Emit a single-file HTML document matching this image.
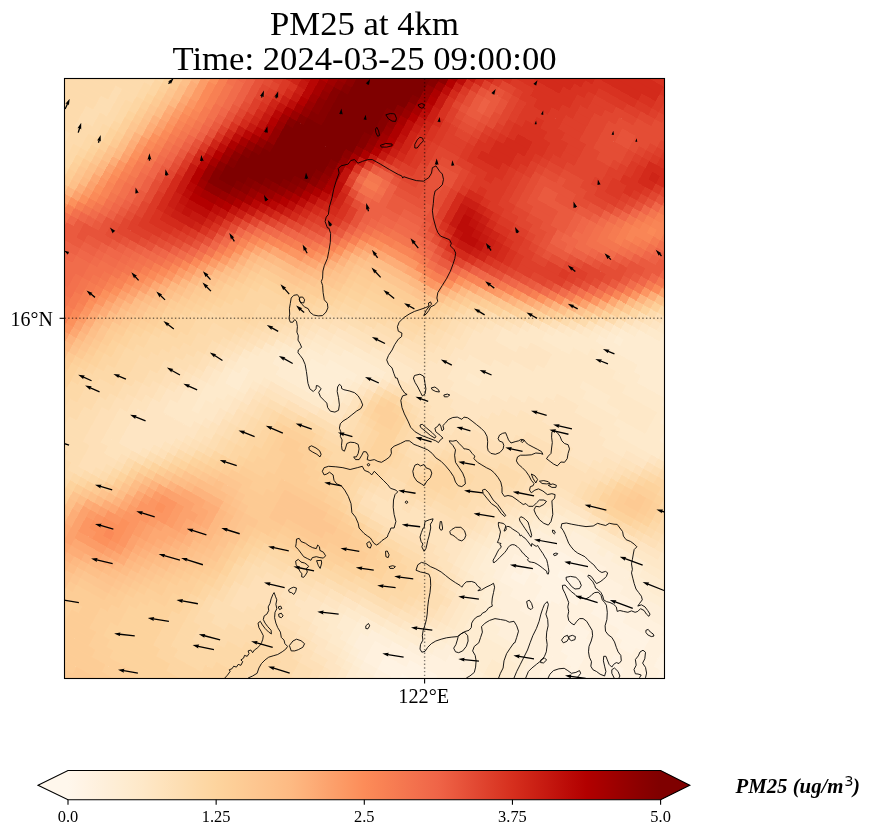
<!DOCTYPE html>
<html><head><meta charset="utf-8"><title>PM25 at 4km</title>
<style>
html,body{margin:0;padding:0;background:#fff;}
svg{display:block;will-change:transform;font-family:"Liberation Serif","DejaVu Serif",serif;}
</style></head><body>
<svg width="871" height="836" viewBox="0 0 871 836">
<defs>
<linearGradient id="cb" gradientUnits="userSpaceOnUse" x1="68.0" x2="660.6" y1="0" y2="0"><stop offset="0.0000" stop-color="#fff7ec"/><stop offset="0.0312" stop-color="#fff3e3"/><stop offset="0.0625" stop-color="#feefda"/><stop offset="0.0938" stop-color="#feecd1"/><stop offset="0.1250" stop-color="#fee8c8"/><stop offset="0.1562" stop-color="#fee3bd"/><stop offset="0.1875" stop-color="#fddeb3"/><stop offset="0.2188" stop-color="#fdd9a8"/><stop offset="0.2500" stop-color="#fdd49e"/><stop offset="0.2812" stop-color="#fdce97"/><stop offset="0.3125" stop-color="#fdc791"/><stop offset="0.3438" stop-color="#fdc18a"/><stop offset="0.3750" stop-color="#fdba83"/><stop offset="0.4062" stop-color="#fdaf79"/><stop offset="0.4375" stop-color="#fca36e"/><stop offset="0.4688" stop-color="#fc9863"/><stop offset="0.5000" stop-color="#fc8c59"/><stop offset="0.5312" stop-color="#f98254"/><stop offset="0.5625" stop-color="#f57850"/><stop offset="0.5938" stop-color="#f26e4c"/><stop offset="0.6250" stop-color="#ef6447"/><stop offset="0.6562" stop-color="#e9573d"/><stop offset="0.6875" stop-color="#e24933"/><stop offset="0.7188" stop-color="#dc3c28"/><stop offset="0.7500" stop-color="#d62f1e"/><stop offset="0.7812" stop-color="#cd2316"/><stop offset="0.8125" stop-color="#c4170f"/><stop offset="0.8438" stop-color="#bb0b07"/><stop offset="0.8750" stop-color="#b20000"/><stop offset="0.9062" stop-color="#a50000"/><stop offset="0.9375" stop-color="#970000"/><stop offset="0.9688" stop-color="#8a0000"/><stop offset="1.0000" stop-color="#7f0000"/></linearGradient>
<clipPath id="ax"><rect x="64.5" y="78.5" width="600.0" height="600.0"/></clipPath>
</defs>
<rect width="871" height="836" fill="#fff"/>
<text x="364.5" y="34.5" font-size="34.7" text-anchor="middle">PM25 at 4km</text>
<text x="364.5" y="70" font-size="34.7" text-anchor="middle">Time: 2024-03-25 09:00:00</text>
<g clip-path="url(#ax)">
<g transform="translate(64.5 78.5)" shape-rendering="crispEdges">
<g stroke-width="0.7" transform="translate(300 300) rotate(29)">
<path fill="#fff5e7" stroke="#fff5e7" d="M264 72h16v8h-16zM272 80h8v8h-8zM176 240h16v8h-16z"/>
<path fill="#fff3e3" stroke="#fff3e3" d="M248 56h32v8h-32zM240 64h56v8h-56zM240 72h24v8h-24zM280 72h24v8h-24zM320 72h8v8h-8zM240 80h32v8h-32zM280 80h64v8h-64zM232 88h8v8h-8zM248 88h48v8h-48zM312 88h64v8h-64zM224 96h16v8h-16zM256 96h24v8h-24zM344 96h32v8h-32zM392 96h16v8h-16zM256 104h16v8h-16zM352 104h16v8h-16zM392 104h24v8h-24zM296 112h24v8h-24zM400 112h8v8h-8zM296 120h32v8h-32zM352 120h8v8h-8zM304 128h24v8h-24zM344 128h24v8h-24zM304 136h24v8h-24zM352 136h8v8h-8zM312 144h16v8h-16zM320 152h24v8h-24zM320 160h16v8h-16zM176 224h32v8h-32zM152 232h56v8h-56zM152 240h24v8h-24zM168 248h16v8h-16z"/>
<path fill="#fff1de" stroke="#fff1de" d="M240 48h64v8h-64zM232 56h16v8h-16zM280 56h48v8h-48zM224 64h16v8h-16zM296 64h56v8h-56zM224 72h16v8h-16zM304 72h16v8h-16zM328 72h56v8h-56zM216 80h24v8h-24zM344 80h56v8h-56zM216 88h16v8h-16zM240 88h8v8h-8zM296 88h16v8h-16zM376 88h24v8h-24zM216 96h8v8h-8zM240 96h16v8h-16zM280 96h64v8h-64zM376 96h16v8h-16zM216 104h40v8h-40zM272 104h80v8h-80zM368 104h24v8h-24zM232 112h64v8h-64zM320 112h80v8h-80zM408 112h8v8h-8zM248 120h48v8h-48zM328 120h24v8h-24zM360 120h48v8h-48zM280 128h24v8h-24zM328 128h16v8h-16zM368 128h32v8h-32zM288 136h16v8h-16zM328 136h24v8h-24zM360 136h24v8h-24zM288 144h24v8h-24zM328 144h40v8h-40zM288 152h32v8h-32zM344 152h8v8h-8zM296 160h24v8h-24zM296 168h32v8h-32zM304 176h8v8h-8zM208 200h16v8h-16zM192 208h40v8h-40zM152 216h88v8h-88zM136 224h40v8h-40zM208 224h16v8h-16zM136 232h16v8h-16zM136 240h16v8h-16zM152 248h16v8h-16zM160 256h8v8h-8z"/>
<path fill="#feefda" stroke="#feefda" d="M256 32h32v8h-32zM296 32h8v8h-8zM240 40h88v8h-88zM224 48h16v8h-16zM304 48h40v8h-40zM216 56h16v8h-16zM328 56h56v8h-56zM216 64h8v8h-8zM352 64h40v8h-40zM208 72h16v8h-16zM384 72h8v8h-8zM208 80h8v8h-8zM200 88h16v8h-16zM200 96h16v8h-16zM208 104h8v8h-8zM216 112h16v8h-16zM224 120h24v8h-24zM224 128h56v8h-56zM232 136h56v8h-56zM232 144h56v8h-56zM240 152h48v8h-48zM272 160h24v8h-24zM280 168h16v8h-16zM280 176h24v8h-24zM288 184h8v8h-8zM200 192h32v8h-32zM192 200h16v8h-16zM224 200h16v8h-16zM168 208h24v8h-24zM232 208h8v8h-8zM128 216h24v8h-24zM120 224h16v8h-16zM120 232h16v8h-16zM128 240h8v8h-8zM136 248h16v8h-16zM152 256h8v8h-8z"/>
<path fill="#feeed5" stroke="#feeed5" d="M200 -160h8v8h-8zM-40 0h32v8h-32zM-56 8h40v8h-40zM-64 16h48v8h-48zM-56 24h32v8h-32zM256 24h24v8h-24zM240 32h16v8h-16zM288 32h8v8h-8zM304 32h32v8h-32zM224 40h16v8h-16zM328 40h24v8h-24zM216 48h8v8h-8zM344 48h40v8h-40zM208 56h8v8h-8zM208 64h8v8h-8zM200 72h8v8h-8zM192 80h16v8h-16zM192 88h8v8h-8zM192 96h8v8h-8zM192 104h16v8h-16zM200 112h16v8h-16zM208 120h16v8h-16zM208 128h16v8h-16zM216 136h16v8h-16zM216 144h16v8h-16zM216 152h24v8h-24zM224 160h48v8h-48zM264 168h16v8h-16zM216 176h8v8h-8zM272 176h8v8h-8zM200 184h32v8h-32zM272 184h16v8h-16zM192 192h8v8h-8zM232 192h8v8h-8zM272 192h8v8h-8zM176 200h16v8h-16zM240 200h8v8h-8zM136 208h32v8h-32zM240 208h8v8h-8zM112 216h16v8h-16zM112 224h8v8h-8zM112 232h8v8h-8zM120 240h8v8h-8zM128 248h8v8h-8zM136 256h16v8h-16zM144 264h8v8h-8z"/>
<path fill="#feecd1" stroke="#feecd1" d="M240 -184h16v8h-16zM216 -176h40v8h-40zM200 -168h64v8h-64zM192 -160h8v8h-8zM208 -160h56v8h-56zM184 -152h88v8h-88zM232 -144h40v8h-40zM240 -136h40v8h-40zM272 -128h8v8h-8zM280 -120h8v8h-8zM280 -112h16v8h-16zM288 -104h8v8h-8zM288 -96h16v8h-16zM-32 -16h48v8h-48zM-48 -8h56v8h-56zM-64 0h24v8h-24zM-8 0h8v8h-8zM-80 8h24v8h-24zM-16 8h8v8h-8zM-88 16h24v8h-24zM-16 16h8v8h-8zM-88 24h32v8h-32zM-24 24h8v8h-8zM232 24h24v8h-24zM280 24h56v8h-56zM-80 32h64v8h-64zM224 32h16v8h-16zM336 32h24v8h-24zM368 32h8v8h-8zM216 40h8v8h-8zM352 40h24v8h-24zM-112 48h8v8h-8zM208 48h8v8h-8zM-120 56h16v8h-16zM200 56h8v8h-8zM-120 64h16v8h-16zM200 64h8v8h-8zM192 72h8v8h-8zM184 88h8v8h-8zM184 96h8v8h-8zM184 104h8v8h-8zM184 112h16v8h-16zM192 120h16v8h-16zM200 128h8v8h-8zM200 136h16v8h-16zM208 144h8v8h-8zM208 152h8v8h-8zM208 160h16v8h-16zM208 168h56v8h-56zM200 176h16v8h-16zM224 176h48v8h-48zM192 184h8v8h-8zM232 184h16v8h-16zM264 184h8v8h-8zM176 192h16v8h-16zM240 192h8v8h-8zM264 192h8v8h-8zM152 200h24v8h-24zM248 200h16v8h-16zM112 208h24v8h-24zM248 208h8v8h-8zM96 216h16v8h-16zM96 224h16v8h-16zM104 232h8v8h-8zM112 240h8v8h-8zM120 248h8v8h-8zM128 256h8v8h-8zM128 264h16v8h-16z"/>
<path fill="#feeacc" stroke="#feeacc" d="M240 -192h8v8h-8zM224 -184h16v8h-16zM208 -176h8v8h-8zM192 -168h8v8h-8zM184 -160h8v8h-8zM176 -152h8v8h-8zM160 -144h72v8h-72zM144 -136h40v8h-40zM192 -136h48v8h-48zM136 -128h32v8h-32zM216 -128h56v8h-56zM232 -120h48v8h-48zM272 -112h8v8h-8zM192 -104h32v8h-32zM272 -104h16v8h-16zM200 -96h40v8h-40zM272 -96h16v8h-16zM240 -88h64v8h-64zM248 -80h48v8h-48zM88 -56h16v8h-16zM-24 -24h48v8h-48zM-48 -16h16v8h-16zM16 -16h8v8h-8zM-64 -8h16v8h-16zM8 -8h8v8h-8zM-72 0h8v8h-8zM-88 8h8v8h-8zM-8 8h8v8h-8zM-96 16h8v8h-8zM240 16h40v8h-40zM-104 24h16v8h-16zM-16 24h8v8h-8zM224 24h8v8h-8zM336 24h32v8h-32zM-112 32h32v8h-32zM-16 32h8v8h-8zM216 32h8v8h-8zM360 32h8v8h-8zM-120 40h96v8h-96zM208 40h8v8h-8zM-120 48h8v8h-8zM-104 48h16v8h-16zM200 48h8v8h-8zM-128 56h8v8h-8zM-104 56h8v8h-8zM192 56h8v8h-8zM-128 64h8v8h-8zM-104 64h8v8h-8zM192 64h8v8h-8zM-128 72h24v8h-24zM184 72h8v8h-8zM-136 80h24v8h-24zM184 80h8v8h-8zM-136 88h16v8h-16zM176 88h8v8h-8zM-136 96h8v8h-8zM176 96h8v8h-8zM-136 104h8v8h-8zM176 104h8v8h-8zM176 112h8v8h-8zM184 120h8v8h-8zM192 128h8v8h-8zM192 136h8v8h-8zM200 144h8v8h-8zM200 152h8v8h-8zM200 160h8v8h-8zM200 168h8v8h-8zM192 176h8v8h-8zM176 184h16v8h-16zM248 184h16v8h-16zM160 192h16v8h-16zM248 192h16v8h-16zM136 200h16v8h-16zM96 208h16v8h-16zM88 216h8v8h-8zM80 224h16v8h-16zM88 232h16v8h-16zM96 240h16v8h-16zM112 248h8v8h-8zM120 256h8v8h-8zM128 272h8v8h-8z"/>
<path fill="#fee8c8" stroke="#fee8c8" d="M232 -192h8v8h-8zM216 -184h8v8h-8zM200 -176h8v8h-8zM176 -160h8v8h-8zM168 -152h8v8h-8zM152 -144h8v8h-8zM136 -136h8v8h-8zM184 -136h8v8h-8zM120 -128h16v8h-16zM168 -128h48v8h-48zM112 -120h120v8h-120zM96 -112h32v8h-32zM152 -112h120v8h-120zM96 -104h24v8h-24zM152 -104h40v8h-40zM224 -104h48v8h-48zM144 -96h56v8h-56zM240 -96h32v8h-32zM120 -88h120v8h-120zM104 -80h72v8h-72zM200 -80h48v8h-48zM296 -80h8v8h-8zM80 -72h88v8h-88zM232 -72h56v8h-56zM72 -64h80v8h-80zM240 -64h24v8h-24zM72 -56h16v8h-16zM104 -56h32v8h-32zM72 -48h48v8h-48zM80 -40h32v8h-32zM-8 -32h48v8h-48zM-48 -24h24v8h-24zM24 -24h16v8h-16zM-64 -16h16v8h-16zM-72 -8h8v8h-8zM-80 0h8v8h-8zM0 0h8v8h-8zM-96 8h8v8h-8zM344 8h16v8h-16zM-104 16h8v8h-8zM-8 16h8v8h-8zM224 16h16v8h-16zM280 16h80v8h-80zM-112 24h8v8h-8zM-8 24h8v8h-8zM216 24h8v8h-8zM-120 32h8v8h-8zM208 32h8v8h-8zM-24 40h16v8h-16zM200 40h8v8h-8zM-128 48h8v8h-8zM-88 48h8v8h-8zM192 48h8v8h-8zM-96 56h8v8h-8zM-136 64h8v8h-8zM184 64h8v8h-8zM-136 72h8v8h-8zM-104 72h8v8h-8zM-144 80h8v8h-8zM-112 80h8v8h-8zM176 80h8v8h-8zM-144 88h8v8h-8zM-120 88h16v8h-16zM168 88h8v8h-8zM-152 96h16v8h-16zM-128 96h16v8h-16zM168 96h8v8h-8zM-152 104h16v8h-16zM-128 104h16v8h-16zM168 104h8v8h-8zM-160 112h40v8h-40zM168 112h8v8h-8zM-160 120h32v8h-32zM176 120h8v8h-8zM184 128h8v8h-8zM184 136h8v8h-8zM192 144h8v8h-8zM192 152h8v8h-8zM192 160h8v8h-8zM192 168h8v8h-8zM184 176h8v8h-8zM168 184h8v8h-8zM152 192h8v8h-8zM104 200h32v8h-32zM88 208h8v8h-8zM72 216h16v8h-16zM72 224h8v8h-8zM72 232h16v8h-16zM80 240h16v8h-16zM96 248h16v8h-16zM112 256h8v8h-8zM120 264h8v8h-8zM120 272h8v8h-8z"/>
<path fill="#fee5c3" stroke="#fee5c3" d="M232 -200h8v8h-8zM224 -192h8v8h-8zM208 -184h8v8h-8zM184 -168h8v8h-8zM160 -152h8v8h-8zM144 -144h8v8h-8zM128 -136h8v8h-8zM112 -128h8v8h-8zM104 -120h8v8h-8zM88 -112h8v8h-8zM128 -112h24v8h-24zM80 -104h16v8h-16zM120 -104h32v8h-32zM72 -96h72v8h-72zM72 -88h48v8h-48zM72 -80h32v8h-32zM176 -80h24v8h-24zM304 -80h8v8h-8zM64 -72h16v8h-16zM168 -72h64v8h-64zM288 -72h8v8h-8zM64 -64h8v8h-8zM152 -64h88v8h-88zM264 -64h24v8h-24zM56 -56h16v8h-16zM136 -56h32v8h-32zM176 -56h88v8h-88zM48 -48h24v8h-24zM120 -48h32v8h-32zM192 -48h56v8h-56zM0 -40h80v8h-80zM112 -40h24v8h-24zM216 -40h24v8h-24zM-48 -32h40v8h-40zM40 -32h88v8h-88zM-64 -24h16v8h-16zM40 -24h24v8h-24zM88 -24h32v8h-32zM-72 -16h8v8h-8zM24 -16h8v8h-8zM96 -16h8v8h-8zM-80 -8h8v8h-8zM16 -8h8v8h-8zM-88 0h8v8h-8zM8 0h8v8h-8zM344 0h8v8h-8zM0 8h8v8h-8zM224 8h40v8h-40zM320 8h24v8h-24zM208 16h16v8h-16zM208 24h8v8h-8zM-8 32h8v8h-8zM200 32h8v8h-8zM-128 40h8v8h-8zM-8 40h8v8h-8zM192 40h8v8h-8zM-136 48h8v8h-8zM-80 48h56v8h-56zM184 48h8v8h-8zM-136 56h8v8h-8zM-88 56h8v8h-8zM184 56h8v8h-8zM-144 64h8v8h-8zM-96 64h8v8h-8zM176 64h8v8h-8zM-144 72h8v8h-8zM-96 72h8v8h-8zM176 72h8v8h-8zM-152 80h8v8h-8zM-104 80h8v8h-8zM168 80h8v8h-8zM-152 88h8v8h-8zM-104 88h8v8h-8zM160 88h8v8h-8zM-160 96h8v8h-8zM-112 96h8v8h-8zM152 96h16v8h-16zM-168 104h16v8h-16zM-112 104h8v8h-8zM152 104h16v8h-16zM-168 112h8v8h-8zM-120 112h8v8h-8zM160 112h8v8h-8zM-176 120h16v8h-16zM-128 120h8v8h-8zM168 120h8v8h-8zM-176 128h56v8h-56zM176 128h8v8h-8zM-184 136h56v8h-56zM176 136h8v8h-8zM-184 144h48v8h-48zM184 144h8v8h-8zM-184 152h40v8h-40zM184 152h8v8h-8zM-184 160h32v8h-32zM184 160h8v8h-8zM-184 168h24v8h-24zM184 168h8v8h-8zM176 176h8v8h-8zM160 184h8v8h-8zM136 192h16v8h-16zM88 200h16v8h-16zM72 208h16v8h-16zM56 216h16v8h-16zM48 224h24v8h-24zM56 232h16v8h-16zM72 240h8v8h-8zM80 248h16v8h-16zM88 256h24v8h-24zM104 264h16v8h-16zM112 272h8v8h-8zM112 280h8v8h-8z"/>
<path fill="#fee3bd" stroke="#fee3bd" d="M216 -192h8v8h-8zM192 -176h8v8h-8zM168 -160h8v8h-8zM96 -120h8v8h-8zM80 -112h8v8h-8zM72 -104h8v8h-8zM64 -96h8v8h-8zM64 -88h8v8h-8zM56 -80h16v8h-16zM56 -72h8v8h-8zM296 -72h8v8h-8zM48 -64h16v8h-16zM40 -56h16v8h-16zM168 -56h8v8h-8zM264 -56h16v8h-16zM8 -48h40v8h-40zM152 -48h40v8h-40zM248 -48h16v8h-16zM-40 -40h40v8h-40zM136 -40h80v8h-80zM240 -40h16v8h-16zM-56 -32h8v8h-8zM128 -32h40v8h-40zM208 -32h32v8h-32zM-72 -24h8v8h-8zM64 -24h24v8h-24zM120 -24h40v8h-40zM-80 -16h8v8h-8zM32 -16h64v8h-64zM104 -16h48v8h-48zM-88 -8h8v8h-8zM72 -8h48v8h-48zM344 -8h8v8h-8zM-96 0h8v8h-8zM80 0h24v8h-24zM216 0h24v8h-24zM336 0h8v8h-8zM-104 8h8v8h-8zM80 8h16v8h-16zM208 8h16v8h-16zM264 8h24v8h-24zM296 8h24v8h-24zM-112 16h8v8h-8zM0 16h8v8h-8zM200 16h8v8h-8zM-120 24h8v8h-8zM0 24h8v8h-8zM192 24h16v8h-16zM-128 32h8v8h-8zM0 32h8v8h-8zM192 32h8v8h-8zM-136 40h8v8h-8zM184 40h8v8h-8zM-24 48h24v8h-24zM176 48h8v8h-8zM-144 56h8v8h-8zM-80 56h24v8h-24zM176 56h8v8h-8zM-88 64h8v8h-8zM168 64h8v8h-8zM-152 72h8v8h-8zM168 72h8v8h-8zM-160 80h8v8h-8zM-96 80h8v8h-8zM160 80h8v8h-8zM-160 88h8v8h-8zM80 88h16v8h-16zM104 88h56v8h-56zM-168 96h8v8h-8zM-104 96h8v8h-8zM64 96h88v8h-88zM-176 104h8v8h-8zM72 104h80v8h-80zM-176 112h8v8h-8zM-112 112h8v8h-8zM144 112h16v8h-16zM-184 120h8v8h-8zM-120 120h16v8h-16zM152 120h16v8h-16zM-192 128h16v8h-16zM-120 128h8v8h-8zM160 128h16v8h-16zM-192 136h8v8h-8zM-128 136h8v8h-8zM168 136h8v8h-8zM-200 144h16v8h-16zM-136 144h8v8h-8zM176 144h8v8h-8zM-200 152h16v8h-16zM-144 152h8v8h-8zM-200 160h16v8h-16zM-152 160h8v8h-8zM176 160h8v8h-8zM-200 168h16v8h-16zM-160 168h8v8h-8zM176 168h8v8h-8zM-200 176h32v8h-32zM160 176h16v8h-16zM-192 184h16v8h-16zM144 184h16v8h-16zM104 192h32v8h-32zM72 200h16v8h-16zM56 208h16v8h-16zM32 216h24v8h-24zM32 224h16v8h-16zM40 232h16v8h-16zM48 240h24v8h-24zM64 248h16v8h-16zM80 256h8v8h-8zM88 264h16v8h-16zM104 272h8v8h-8zM104 280h8v8h-8z"/>
<path fill="#fee0b8" stroke="#fee0b8" d="M224 -200h8v8h-8zM200 -184h8v8h-8zM176 -168h8v8h-8zM152 -152h8v8h-8zM136 -144h8v8h-8zM120 -136h8v8h-8zM104 -128h8v8h-8zM88 -120h8v8h-8zM72 -112h8v8h-8zM64 -104h8v8h-8zM56 -96h8v8h-8zM56 -88h8v8h-8zM48 -80h8v8h-8zM48 -72h8v8h-8zM40 -64h8v8h-8zM288 -64h8v8h-8zM16 -56h24v8h-24zM280 -56h8v8h-8zM-24 -48h32v8h-32zM264 -48h8v8h-8zM-56 -40h16v8h-16zM256 -40h8v8h-8zM-72 -32h16v8h-16zM168 -32h40v8h-40zM240 -32h16v8h-16zM-80 -24h8v8h-8zM160 -24h88v8h-88zM-88 -16h8v8h-8zM152 -16h24v8h-24zM200 -16h40v8h-40zM-96 -8h8v8h-8zM24 -8h8v8h-8zM48 -8h24v8h-24zM120 -8h48v8h-48zM200 -8h40v8h-40zM336 -8h8v8h-8zM-104 0h8v8h-8zM64 0h16v8h-16zM104 0h48v8h-48zM200 0h16v8h-16zM240 0h16v8h-16zM320 0h16v8h-16zM-112 8h8v8h-8zM8 8h8v8h-8zM72 8h8v8h-8zM96 8h16v8h-16zM192 8h16v8h-16zM288 8h8v8h-8zM-120 16h8v8h-8zM72 16h32v8h-32zM192 16h8v8h-8zM-128 24h8v8h-8zM72 24h24v8h-24zM184 24h8v8h-8zM-136 32h8v8h-8zM72 32h16v8h-16zM176 32h16v8h-16zM-144 40h8v8h-8zM0 40h8v8h-8zM168 40h16v8h-16zM-144 48h8v8h-8zM0 48h8v8h-8zM168 48h8v8h-8zM-152 56h8v8h-8zM-56 56h24v8h-24zM160 56h16v8h-16zM-152 64h8v8h-8zM-80 64h8v8h-8zM160 64h8v8h-8zM-160 72h8v8h-8zM-88 72h8v8h-8zM152 72h16v8h-16zM-168 80h8v8h-8zM-88 80h8v8h-8zM72 80h24v8h-24zM104 80h56v8h-56zM-176 88h16v8h-16zM-96 88h8v8h-8zM64 88h16v8h-16zM96 88h8v8h-8zM-176 96h8v8h-8zM-96 96h8v8h-8zM56 96h8v8h-8zM-184 104h8v8h-8zM-104 104h8v8h-8zM56 104h16v8h-16zM-192 112h16v8h-16zM-104 112h8v8h-8zM72 112h72v8h-72zM-192 120h8v8h-8zM136 120h16v8h-16zM-200 128h8v8h-8zM-112 128h8v8h-8zM152 128h8v8h-8zM-208 136h16v8h-16zM-120 136h8v8h-8zM160 136h8v8h-8zM-208 144h8v8h-8zM-128 144h8v8h-8zM168 144h8v8h-8zM-216 152h16v8h-16zM-136 152h8v8h-8zM176 152h8v8h-8zM-216 160h16v8h-16zM-144 160h8v8h-8zM-216 168h16v8h-16zM168 168h8v8h-8zM-216 176h16v8h-16zM-168 176h8v8h-8zM152 176h8v8h-8zM-216 184h24v8h-24zM-176 184h8v8h-8zM136 184h8v8h-8zM-208 192h32v8h-32zM88 192h16v8h-16zM-208 200h24v8h-24zM56 200h16v8h-16zM-208 208h16v8h-16zM24 208h32v8h-32zM8 216h24v8h-24zM0 224h32v8h-32zM0 232h40v8h-40zM-8 240h56v8h-56zM-8 248h24v8h-24zM40 248h24v8h-24zM-8 256h16v8h-16zM64 256h16v8h-16zM72 264h16v8h-16zM80 272h24v8h-24zM96 280h8v8h-8zM104 288h8v8h-8z"/>
<path fill="#fddeb3" stroke="#fddeb3" d="M232 -208h8v8h-8zM208 -192h8v8h-8zM-360 -136h8v8h-8zM-360 -128h8v8h-8zM96 -128h8v8h-8zM-368 -120h16v8h-16zM80 -120h8v8h-8zM-368 -112h16v8h-16zM64 -112h8v8h-8zM-376 -104h16v8h-16zM56 -104h8v8h-8zM-376 -96h16v8h-16zM48 -96h8v8h-8zM-376 -88h8v8h-8zM48 -88h8v8h-8zM40 -80h8v8h-8zM-384 -72h8v8h-8zM32 -72h16v8h-16zM304 -72h8v8h-8zM-384 -64h8v8h-8zM24 -64h16v8h-16zM296 -64h8v8h-8zM-384 -56h8v8h-8zM-16 -56h32v8h-32zM-48 -48h24v8h-24zM272 -48h8v8h-8zM-64 -40h8v8h-8zM264 -40h8v8h-8zM-80 -32h8v8h-8zM256 -32h8v8h-8zM-88 -24h8v8h-8zM248 -24h8v8h-8zM-96 -16h8v8h-8zM176 -16h24v8h-24zM240 -16h8v8h-8zM336 -16h8v8h-8zM-104 -8h8v8h-8zM32 -8h16v8h-16zM168 -8h32v8h-32zM240 -8h8v8h-8zM328 -8h8v8h-8zM-112 0h8v8h-8zM16 0h8v8h-8zM56 0h8v8h-8zM152 0h48v8h-48zM256 0h8v8h-8zM312 0h8v8h-8zM-120 8h8v8h-8zM64 8h8v8h-8zM112 8h48v8h-48zM184 8h8v8h-8zM-128 16h8v8h-8zM8 16h8v8h-8zM104 16h8v8h-8zM184 16h8v8h-8zM-136 24h8v8h-8zM96 24h8v8h-8zM176 24h8v8h-8zM-144 32h8v8h-8zM8 32h8v8h-8zM88 32h8v8h-8zM168 32h8v8h-8zM-152 40h8v8h-8zM8 40h8v8h-8zM72 40h24v8h-24zM160 40h8v8h-8zM-152 48h8v8h-8zM8 48h8v8h-8zM80 48h8v8h-8zM152 48h16v8h-16zM-160 56h8v8h-8zM-32 56h48v8h-48zM152 56h8v8h-8zM-168 64h16v8h-16zM-72 64h16v8h-16zM144 64h16v8h-16zM-176 72h16v8h-16zM-80 72h8v8h-8zM72 72h16v8h-16zM120 72h32v8h-32zM-184 80h16v8h-16zM-80 80h8v8h-8zM64 80h8v8h-8zM96 80h8v8h-8zM-184 88h8v8h-8zM-88 88h8v8h-8zM56 88h8v8h-8zM-192 96h16v8h-16zM-88 96h8v8h-8zM48 96h8v8h-8zM-192 104h8v8h-8zM-96 104h8v8h-8zM-200 112h8v8h-8zM-96 112h8v8h-8zM56 112h16v8h-16zM-208 120h16v8h-16zM-104 120h8v8h-8zM88 120h48v8h-48zM-208 128h8v8h-8zM-104 128h8v8h-8zM136 128h16v8h-16zM-216 136h8v8h-8zM-112 136h8v8h-8zM152 136h8v8h-8zM-224 144h16v8h-16zM-120 144h8v8h-8zM160 144h8v8h-8zM-224 152h8v8h-8zM160 152h16v8h-16zM-232 160h16v8h-16zM160 160h16v8h-16zM-232 168h16v8h-16zM-152 168h8v8h-8zM152 168h16v8h-16zM-240 176h24v8h-24zM-160 176h8v8h-8zM144 176h8v8h-8zM-240 184h24v8h-24zM96 184h40v8h-40zM-240 192h32v8h-32zM-176 192h8v8h-8zM64 192h24v8h-24zM-240 200h32v8h-32zM-184 200h8v8h-8zM24 200h32v8h-32zM-224 208h16v8h-16zM-192 208h8v8h-8zM0 208h24v8h-24zM-216 216h16v8h-16zM-8 216h16v8h-16zM-8 224h8v8h-8zM-8 232h8v8h-8zM-16 240h8v8h-8zM-16 248h8v8h-8zM16 248h24v8h-24zM-16 256h8v8h-8zM8 256h56v8h-56zM-24 264h48v8h-48zM56 264h16v8h-16zM-24 272h40v8h-40zM72 272h8v8h-8zM-16 280h16v8h-16zM80 280h16v8h-16zM80 288h24v8h-24zM88 296h8v8h-8z"/>
<path fill="#fddbad" stroke="#fddbad" d="M216 -200h8v8h-8zM184 -176h8v8h-8zM-336 -168h8v8h-8zM-352 -160h24v8h-24zM160 -160h8v8h-8zM-368 -152h32v8h-32zM144 -152h8v8h-8zM-384 -144h48v8h-48zM128 -144h8v8h-8zM-400 -136h40v8h-40zM-352 -136h16v8h-16zM112 -136h8v8h-8zM-408 -128h48v8h-48zM-352 -128h8v8h-8zM-416 -120h48v8h-48zM-352 -120h8v8h-8zM72 -120h8v8h-8zM-416 -112h48v8h-48zM-352 -112h8v8h-8zM56 -112h8v8h-8zM-408 -104h32v8h-32zM-360 -104h16v8h-16zM48 -104h8v8h-8zM-400 -96h24v8h-24zM-360 -96h8v8h-8zM40 -96h8v8h-8zM-400 -88h24v8h-24zM-368 -88h16v8h-16zM40 -88h8v8h-8zM-392 -80h32v8h-32zM32 -80h8v8h-8zM-392 -72h8v8h-8zM-376 -72h16v8h-16zM24 -72h8v8h-8zM-376 -64h8v8h-8zM-8 -64h32v8h-32zM304 -64h8v8h-8zM-376 -56h8v8h-8zM-40 -56h24v8h-24zM288 -56h8v8h-8zM-376 -48h8v8h-8zM-56 -48h8v8h-8zM280 -48h8v8h-8zM-72 -40h8v8h-8zM-88 -32h8v8h-8zM328 -32h8v8h-8zM-96 -24h8v8h-8zM328 -24h16v8h-16zM-104 -16h8v8h-8zM248 -16h8v8h-8zM328 -16h8v8h-8zM-112 -8h8v8h-8zM248 -8h8v8h-8zM320 -8h8v8h-8zM-120 0h8v8h-8zM48 0h8v8h-8zM264 0h16v8h-16zM296 0h16v8h-16zM-128 8h8v8h-8zM56 8h8v8h-8zM160 8h24v8h-24zM-136 16h8v8h-8zM64 16h8v8h-8zM112 16h72v8h-72zM-160 24h24v8h-24zM8 24h8v8h-8zM64 24h8v8h-8zM104 24h8v8h-8zM136 24h40v8h-40zM-160 32h16v8h-16zM64 32h8v8h-8zM96 32h8v8h-8zM144 32h24v8h-24zM-168 40h16v8h-16zM16 40h8v8h-8zM64 40h8v8h-8zM144 40h16v8h-16zM-168 48h16v8h-16zM16 48h8v8h-8zM72 48h8v8h-8zM88 48h8v8h-8zM136 48h16v8h-16zM-176 56h16v8h-16zM16 56h8v8h-8zM72 56h16v8h-16zM136 56h16v8h-16zM-184 64h16v8h-16zM-56 64h16v8h-16zM-8 64h24v8h-24zM64 64h24v8h-24zM120 64h24v8h-24zM-192 72h16v8h-16zM-72 72h8v8h-8zM64 72h8v8h-8zM88 72h32v8h-32zM-200 80h16v8h-16zM-72 80h8v8h-8zM56 80h8v8h-8zM-208 88h24v8h-24zM-80 88h8v8h-8zM48 88h8v8h-8zM-208 96h16v8h-16zM-80 96h8v8h-8zM-208 104h16v8h-16zM-88 104h8v8h-8zM48 104h8v8h-8zM-208 112h8v8h-8zM-88 112h8v8h-8zM-216 120h8v8h-8zM-96 120h8v8h-8zM72 120h16v8h-16zM-232 128h24v8h-24zM-96 128h8v8h-8zM112 128h24v8h-24zM-240 136h24v8h-24zM-104 136h8v8h-8zM136 136h16v8h-16zM-240 144h16v8h-16zM144 144h16v8h-16zM-240 152h16v8h-16zM-128 152h8v8h-8zM152 152h8v8h-8zM-248 160h16v8h-16zM-136 160h8v8h-8zM152 160h8v8h-8zM-248 168h16v8h-16zM-144 168h8v8h-8zM144 168h8v8h-8zM-256 176h16v8h-16zM128 176h16v8h-16zM-248 184h8v8h-8zM-168 184h8v8h-8zM80 184h16v8h-16zM32 192h32v8h-32zM0 200h24v8h-24zM-232 208h8v8h-8zM-184 208h8v8h-8zM-8 208h8v8h-8zM-232 216h16v8h-16zM-200 216h8v8h-8zM-16 216h8v8h-8zM-224 224h16v8h-16zM-16 224h8v8h-8zM-16 232h8v8h-8zM-24 248h8v8h-8zM-24 256h8v8h-8zM-32 264h8v8h-8zM24 264h32v8h-32zM-32 272h8v8h-8zM16 272h56v8h-56zM-32 280h16v8h-16zM0 280h32v8h-32zM56 280h24v8h-24zM-32 288h56v8h-56zM64 288h16v8h-16zM-24 296h32v8h-32zM56 296h32v8h-32zM-24 304h24v8h-24zM48 304h32v8h-32zM40 312h24v8h-24zM40 320h8v8h-8z"/>
<path fill="#fdd9a8" stroke="#fdd9a8" d="M224 -208h8v8h-8zM192 -184h8v8h-8zM-328 -168h8v8h-8zM168 -168h8v8h-8zM-336 -152h8v8h-8zM-336 -144h8v8h-8zM-344 -128h8v8h-8zM88 -128h8v8h-8zM-344 -120h8v8h-8zM-344 -112h8v8h-8zM-352 -96h8v8h-8zM-352 -88h8v8h-8zM32 -88h8v8h-8zM-360 -80h8v8h-8zM24 -80h8v8h-8zM-360 -72h8v8h-8zM0 -72h24v8h-24zM-368 -64h8v8h-8zM-40 -64h32v8h-32zM312 -64h8v8h-8zM-368 -56h8v8h-8zM-56 -56h16v8h-16zM296 -56h8v8h-8zM-368 -48h8v8h-8zM-72 -48h16v8h-16zM320 -48h8v8h-8zM-376 -40h8v8h-8zM-80 -40h8v8h-8zM272 -40h8v8h-8zM320 -40h16v8h-16zM-96 -32h8v8h-8zM264 -32h8v8h-8zM-112 -24h16v8h-16zM256 -24h8v8h-8zM-128 -16h24v8h-24zM256 -16h8v8h-8zM320 -16h8v8h-8zM-128 -8h16v8h-16zM256 -8h8v8h-8zM312 -8h8v8h-8zM-128 0h8v8h-8zM24 0h8v8h-8zM40 0h8v8h-8zM280 0h16v8h-16zM-152 8h24v8h-24zM16 8h8v8h-8zM-168 16h32v8h-32zM56 16h8v8h-8zM-176 24h16v8h-16zM56 24h8v8h-8zM112 24h24v8h-24zM-176 32h16v8h-16zM16 32h8v8h-8zM56 32h8v8h-8zM104 32h40v8h-40zM-176 40h8v8h-8zM24 40h8v8h-8zM96 40h8v8h-8zM128 40h16v8h-16zM-184 48h16v8h-16zM24 48h8v8h-8zM64 48h8v8h-8zM96 48h8v8h-8zM128 48h8v8h-8zM-200 56h24v8h-24zM24 56h8v8h-8zM64 56h8v8h-8zM88 56h8v8h-8zM120 56h16v8h-16zM-208 64h24v8h-24zM-40 64h32v8h-32zM16 64h16v8h-16zM56 64h8v8h-8zM88 64h32v8h-32zM-208 72h16v8h-16zM-64 72h8v8h-8zM-8 72h40v8h-40zM48 72h16v8h-16zM-216 80h16v8h-16zM-64 80h8v8h-8zM8 80h16v8h-16zM40 80h16v8h-16zM-224 88h16v8h-16zM-72 88h8v8h-8zM40 88h8v8h-8zM-224 96h16v8h-16zM-72 96h8v8h-8zM40 96h8v8h-8zM-224 104h16v8h-16zM-80 104h8v8h-8zM40 104h8v8h-8zM-232 112h24v8h-24zM-80 112h8v8h-8zM48 112h8v8h-8zM-240 120h24v8h-24zM-88 120h8v8h-8zM56 120h16v8h-16zM-248 128h16v8h-16zM-88 128h8v8h-8zM88 128h24v8h-24zM-248 136h8v8h-8zM120 136h16v8h-16zM-256 144h16v8h-16zM-112 144h8v8h-8zM128 144h16v8h-16zM-256 152h16v8h-16zM-120 152h8v8h-8zM136 152h16v8h-16zM-264 160h16v8h-16zM136 160h16v8h-16zM-256 168h8v8h-8zM120 168h24v8h-24zM-152 176h8v8h-8zM88 176h40v8h-40zM48 184h32v8h-32zM-168 192h8v8h-8zM0 192h32v8h-32zM-176 200h8v8h-8zM-8 200h8v8h-8zM-16 208h8v8h-8zM-192 216h8v8h-8zM-208 224h8v8h-8zM-24 224h8v8h-8zM-224 232h16v8h-16zM-24 232h8v8h-8zM-24 240h8v8h-8zM-32 256h8v8h-8zM-40 272h8v8h-8zM-40 280h8v8h-8zM32 280h24v8h-24zM-40 288h8v8h-8zM24 288h40v8h-40zM-40 296h16v8h-16zM8 296h48v8h-48zM-40 304h16v8h-16zM0 304h48v8h-48zM-40 312h80v8h-80zM-40 320h48v8h-48zM24 320h16v8h-16zM-32 328h32v8h-32zM32 328h8v8h-8z"/>
<path fill="#fdd6a3" stroke="#fdd6a3" d="M200 -192h8v8h-8zM-328 -176h8v8h-8zM-328 -160h8v8h-8zM152 -160h8v8h-8zM-328 -152h8v8h-8zM-336 -136h8v8h-8zM104 -136h8v8h-8zM-336 -128h8v8h-8zM64 -120h8v8h-8zM48 -112h8v8h-8zM-344 -104h8v8h-8zM40 -104h8v8h-8zM32 -96h8v8h-8zM24 -88h8v8h-8zM-352 -80h8v8h-8zM8 -80h16v8h-16zM-40 -72h40v8h-40zM-360 -64h8v8h-8zM-56 -64h16v8h-16zM-64 -56h8v8h-8zM304 -56h16v8h-16zM-80 -48h8v8h-8zM288 -48h8v8h-8zM312 -48h8v8h-8zM-368 -40h8v8h-8zM-96 -40h16v8h-16zM280 -40h8v8h-8zM-136 -32h40v8h-40zM320 -32h8v8h-8zM-144 -24h32v8h-32zM264 -24h8v8h-8zM320 -24h8v8h-8zM-144 -16h16v8h-16zM-152 -8h24v8h-24zM264 -8h8v8h-8zM304 -8h8v8h-8zM-160 0h32v8h-32zM32 0h8v8h-8zM-168 8h16v8h-16zM48 8h8v8h-8zM-176 16h8v8h-8zM16 16h8v8h-8zM-184 24h8v8h-8zM16 24h8v8h-8zM-192 32h16v8h-16zM24 32h8v8h-8zM-192 40h16v8h-16zM32 40h8v8h-8zM56 40h8v8h-8zM104 40h24v8h-24zM-200 48h16v8h-16zM32 48h8v8h-8zM56 48h8v8h-8zM104 48h24v8h-24zM-208 56h8v8h-8zM32 56h8v8h-8zM56 56h8v8h-8zM96 56h24v8h-24zM-216 64h8v8h-8zM32 64h24v8h-24zM-224 72h16v8h-16zM-56 72h16v8h-16zM-16 72h8v8h-8zM32 72h16v8h-16zM-224 80h8v8h-8zM0 80h8v8h-8zM24 80h16v8h-16zM-232 88h8v8h-8zM-64 88h8v8h-8zM8 88h32v8h-32zM-232 96h8v8h-8zM-64 96h8v8h-8zM16 96h24v8h-24zM-240 104h16v8h-16zM-72 104h16v8h-16zM32 104h8v8h-8zM-240 112h8v8h-8zM-72 112h8v8h-8zM40 112h8v8h-8zM-248 120h8v8h-8zM-80 120h16v8h-16zM48 120h8v8h-8zM-256 128h8v8h-8zM-80 128h8v8h-8zM72 128h16v8h-16zM-256 136h8v8h-8zM-96 136h8v8h-8zM96 136h24v8h-24zM-104 144h8v8h-8zM112 144h16v8h-16zM-264 152h8v8h-8zM112 152h24v8h-24zM-128 160h8v8h-8zM112 160h24v8h-24zM-136 168h8v8h-8zM96 168h24v8h-24zM64 176h24v8h-24zM-160 184h8v8h-8zM16 184h32v8h-32zM-8 192h8v8h-8zM-16 200h8v8h-8zM-176 208h8v8h-8zM-184 216h8v8h-8zM-24 216h8v8h-8zM-200 224h8v8h-8zM-216 240h8v8h-8zM-32 240h8v8h-8zM-32 248h8v8h-8zM-40 256h8v8h-8zM-40 264h8v8h-8zM-48 272h8v8h-8zM-48 280h8v8h-8zM-48 288h8v8h-8zM-56 296h16v8h-16zM-56 304h16v8h-16zM-56 312h16v8h-16zM-56 320h16v8h-16zM8 320h16v8h-16zM-56 328h24v8h-24zM0 328h32v8h-32zM-48 336h72v8h-72zM-32 344h40v8h-40zM-16 352h8v8h-8z"/>
<path fill="#fdd39d" stroke="#fdd39d" d="M208 -200h8v8h-8zM176 -176h8v8h-8zM-320 -168h8v8h-8zM136 -152h8v8h-8zM-328 -144h8v8h-8zM120 -144h8v8h-8zM80 -128h8v8h-8zM-336 -120h8v8h-8zM56 -120h8v8h-8zM32 -104h8v8h-8zM-344 -96h8v8h-8zM24 -96h8v8h-8zM-344 -88h8v8h-8zM8 -88h16v8h-16zM-40 -80h48v8h-48zM-352 -72h8v8h-8zM-56 -72h16v8h-16zM-64 -64h8v8h-8zM-360 -56h8v8h-8zM-72 -56h8v8h-8zM-88 -48h8v8h-8zM296 -48h16v8h-16zM-136 -40h40v8h-40zM312 -40h8v8h-8zM-144 -32h8v8h-8zM272 -32h8v8h-8zM-152 -24h8v8h-8zM-160 -16h16v8h-16zM264 -16h8v8h-8zM312 -16h8v8h-8zM-160 -8h8v8h-8zM272 -8h32v8h-32zM-168 0h8v8h-8zM-176 8h8v8h-8zM24 8h8v8h-8zM40 8h8v8h-8zM-184 16h8v8h-8zM48 16h8v8h-8zM-192 24h8v8h-8zM24 24h8v8h-8zM48 24h8v8h-8zM-200 32h8v8h-8zM32 32h24v8h-24zM-208 40h16v8h-16zM40 40h16v8h-16zM-208 48h8v8h-8zM40 48h16v8h-16zM-216 56h8v8h-8zM40 56h16v8h-16zM-224 64h8v8h-8zM-232 72h8v8h-8zM-40 72h24v8h-24zM-232 80h8v8h-8zM-56 80h8v8h-8zM-16 80h16v8h-16zM-240 88h8v8h-8zM-56 88h8v8h-8zM-8 88h16v8h-16zM-240 96h8v8h-8zM-56 96h8v8h-8zM0 96h16v8h-16zM-248 104h8v8h-8zM-56 104h8v8h-8zM8 104h24v8h-24zM-248 112h8v8h-8zM-64 112h16v8h-16zM24 112h16v8h-16zM-256 120h8v8h-8zM-64 120h8v8h-8zM40 120h8v8h-8zM-264 128h8v8h-8zM-72 128h8v8h-8zM56 128h16v8h-16zM-264 136h8v8h-8zM-88 136h8v8h-8zM80 136h16v8h-16zM-272 144h16v8h-16zM-96 144h8v8h-8zM96 144h16v8h-16zM-112 152h8v8h-8zM104 152h8v8h-8zM-120 160h8v8h-8zM96 160h16v8h-16zM72 168h24v8h-24zM-144 176h8v8h-8zM24 176h40v8h-40zM0 184h16v8h-16zM-16 192h8v8h-8zM-168 200h8v8h-8zM-24 200h8v8h-8zM-24 208h8v8h-8zM-32 224h8v8h-8zM-208 232h8v8h-8zM-32 232h8v8h-8zM-40 248h8v8h-8zM-48 256h8v8h-8zM-48 264h8v8h-8zM-56 272h8v8h-8zM-64 280h16v8h-16zM-64 288h16v8h-16zM-80 296h24v8h-24zM-88 304h32v8h-32zM-96 312h40v8h-40zM-96 320h40v8h-40zM-96 328h40v8h-40zM-104 336h56v8h-56zM-104 344h72v8h-72zM-96 352h80v8h-80zM-88 360h64v8h-64zM-56 368h24v8h-24zM-56 376h8v8h-8z"/>
<path fill="#fdd09a" stroke="#fdd09a" d="M216 -208h8v8h-8zM184 -184h8v8h-8zM-320 -176h8v8h-8zM-320 -160h8v8h-8zM-328 -136h8v8h-8zM96 -136h8v8h-8zM72 -128h8v8h-8zM-336 -112h8v8h-8zM40 -112h8v8h-8zM-336 -104h8v8h-8zM16 -96h8v8h-8zM-40 -88h48v8h-48zM-344 -80h8v8h-8zM-56 -80h16v8h-16zM-64 -72h8v8h-8zM-352 -64h8v8h-8zM-72 -64h8v8h-8zM-80 -56h8v8h-8zM-360 -48h8v8h-8zM-104 -48h16v8h-16zM-144 -40h8v8h-8zM288 -40h24v8h-24zM-368 -32h8v8h-8zM-152 -32h8v8h-8zM280 -32h8v8h-8zM312 -32h8v8h-8zM-160 -24h8v8h-8zM272 -24h8v8h-8zM312 -24h8v8h-8zM-168 -16h8v8h-8zM272 -16h8v8h-8zM304 -16h8v8h-8zM-168 -8h8v8h-8zM-176 0h8v8h-8zM-184 8h8v8h-8zM32 8h8v8h-8zM-192 16h8v8h-8zM24 16h24v8h-24zM-200 24h8v8h-8zM32 24h16v8h-16zM-208 32h8v8h-8zM-216 48h8v8h-8zM-224 56h8v8h-8zM-232 64h8v8h-8zM-240 80h8v8h-8zM-48 80h32v8h-32zM-48 88h8v8h-8zM-24 88h16v8h-16zM-248 96h8v8h-8zM-48 96h8v8h-8zM-16 96h16v8h-16zM-48 104h16v8h-16zM-8 104h16v8h-16zM-256 112h8v8h-8zM-48 112h16v8h-16zM0 112h24v8h-24zM-264 120h8v8h-8zM-56 120h24v8h-24zM24 120h16v8h-16zM-64 128h24v8h-24zM48 128h8v8h-8zM-272 136h8v8h-8zM-80 136h16v8h-16zM64 136h16v8h-16zM-88 144h8v8h-8zM80 144h16v8h-16zM-104 152h8v8h-8zM88 152h16v8h-16zM80 160h16v8h-16zM-128 168h8v8h-8zM40 168h32v8h-32zM0 176h24v8h-24zM-152 184h8v8h-8zM-16 184h16v8h-16zM-160 192h8v8h-8zM-24 192h8v8h-8zM-32 208h8v8h-8zM-32 216h8v8h-8zM-192 224h8v8h-8zM-208 240h8v8h-8zM-40 240h8v8h-8zM-216 248h8v8h-8zM-48 248h8v8h-8zM-56 256h8v8h-8zM-64 264h16v8h-16zM-72 272h16v8h-16zM-72 280h8v8h-8zM-88 288h24v8h-24zM-96 296h16v8h-16zM-104 304h16v8h-16zM-104 312h8v8h-8zM-112 320h16v8h-16zM-120 328h24v8h-24zM-152 336h16v8h-16zM-120 336h16v8h-16zM-160 344h16v8h-16zM-120 344h16v8h-16zM-152 352h8v8h-8zM-112 352h16v8h-16zM-112 360h24v8h-24zM-104 368h48v8h-48zM-88 376h32v8h-32zM-72 384h8v8h-8z"/>
<path fill="#fdcd96" stroke="#fdcd96" d="M160 -168h8v8h-8zM144 -160h8v8h-8zM-320 -152h8v8h-8zM112 -144h8v8h-8zM-328 -128h8v8h-8zM64 -128h8v8h-8zM48 -120h8v8h-8zM24 -104h8v8h-8zM-336 -96h8v8h-8zM-40 -96h56v8h-56zM-56 -88h16v8h-16zM-64 -80h8v8h-8zM-80 -64h8v8h-8zM-96 -56h16v8h-16zM-144 -48h40v8h-40zM-360 -40h8v8h-8zM-152 -40h8v8h-8zM288 -32h8v8h-8zM304 -32h8v8h-8zM280 -24h8v8h-8zM304 -24h8v8h-8zM280 -16h24v8h-24zM-176 -8h8v8h-8zM-184 0h8v8h-8zM-192 8h8v8h-8zM-200 16h8v8h-8zM-208 24h8v8h-8zM-216 40h8v8h-8zM-224 48h8v8h-8zM-232 56h8v8h-8zM-240 72h8v8h-8zM-248 80h8v8h-8zM-248 88h8v8h-8zM-40 88h16v8h-16zM-40 96h24v8h-24zM-256 104h8v8h-8zM-32 104h24v8h-24zM-32 112h32v8h-32zM-32 120h56v8h-56zM-272 128h8v8h-8zM-40 128h16v8h-16zM32 128h16v8h-16zM-64 136h40v8h-40zM48 136h16v8h-16zM-80 144h8v8h-8zM-48 144h16v8h-16zM64 144h16v8h-16zM-96 152h8v8h-8zM64 152h24v8h-24zM-112 160h8v8h-8zM48 160h32v8h-32zM0 168h40v8h-40zM-136 176h8v8h-8zM-8 176h8v8h-8zM-24 184h8v8h-8zM-32 200h8v8h-8zM-168 208h8v8h-8zM-176 216h8v8h-8zM-40 224h8v8h-8zM-200 232h8v8h-8zM-40 232h8v8h-8zM-48 240h8v8h-8zM-208 248h8v8h-8zM-56 248h8v8h-8zM-64 256h8v8h-8zM-72 264h8v8h-8zM-80 272h8v8h-8zM-88 280h16v8h-16zM-96 288h8v8h-8zM-104 296h8v8h-8zM-112 304h8v8h-8zM-120 312h16v8h-16zM-152 320h40v8h-40zM-160 328h40v8h-40zM-160 336h8v8h-8zM-136 336h16v8h-16zM-144 344h24v8h-24zM-144 352h32v8h-32zM-152 360h40v8h-40zM-144 368h40v8h-40zM-144 376h56v8h-56zM-136 384h64v8h-64zM-136 392h24v8h-24zM-128 400h8v8h-8z"/>
<path fill="#fdca93" stroke="#fdca93" d="M224 -216h8v8h-8zM192 -192h8v8h-8zM-312 -176h8v8h-8zM-312 -168h8v8h-8zM128 -152h8v8h-8zM-320 -144h8v8h-8zM88 -136h8v8h-8zM-328 -120h8v8h-8zM32 -112h8v8h-8zM-56 -96h16v8h-16zM-336 -88h8v8h-8zM-64 -88h8v8h-8zM-344 -72h8v8h-8zM-72 -72h8v8h-8zM-88 -64h8v8h-8zM-352 -56h8v8h-8zM-104 -56h8v8h-8zM-360 -32h8v8h-8zM-160 -32h8v8h-8zM296 -32h8v8h-8zM-168 -24h8v8h-8zM288 -24h16v8h-16zM-176 -16h8v8h-8zM-184 -8h8v8h-8zM-192 0h8v8h-8zM-216 32h8v8h-8zM-224 40h8v8h-8zM-240 64h8v8h-8zM-248 72h8v8h-8zM-256 96h8v8h-8zM-264 112h8v8h-8zM-272 120h8v8h-8zM-24 128h56v8h-56zM-24 136h8v8h-8zM32 136h16v8h-16zM-72 144h24v8h-24zM-32 144h16v8h-16zM48 144h16v8h-16zM-88 152h8v8h-8zM-56 152h40v8h-40zM40 152h24v8h-24zM-104 160h8v8h-8zM-48 160h32v8h-32zM0 160h48v8h-48zM-120 168h8v8h-8zM-40 168h40v8h-40zM-24 176h16v8h-16zM-144 184h8v8h-8zM-32 184h8v8h-8zM-32 192h8v8h-8zM-160 200h8v8h-8zM-40 208h8v8h-8zM-40 216h8v8h-8zM-184 224h8v8h-8zM-48 232h8v8h-8zM-56 240h8v8h-8zM-64 248h8v8h-8zM-72 256h8v8h-8zM-80 264h8v8h-8zM-88 272h8v8h-8zM-96 280h8v8h-8zM-104 288h8v8h-8zM-112 296h8v8h-8zM-120 304h8v8h-8zM-152 312h32v8h-32zM-160 320h8v8h-8zM-168 328h8v8h-8zM-112 392h32v8h-32zM-120 400h24v8h-24zM-120 408h16v8h-16z"/>
<path fill="#fdc690" stroke="#fdc690" d="M200 -200h8v8h-8zM-312 -184h8v8h-8zM168 -176h8v8h-8zM-312 -160h8v8h-8zM-320 -136h8v8h-8zM80 -136h8v8h-8zM56 -128h8v8h-8zM40 -120h8v8h-8zM-328 -112h8v8h-8zM-40 -104h40v8h-40zM16 -104h8v8h-8zM-64 -96h8v8h-8zM-72 -80h8v8h-8zM-80 -72h8v8h-8zM-344 -64h8v8h-8zM-96 -64h8v8h-8zM-136 -56h32v8h-32zM-352 -48h8v8h-8zM-152 -48h8v8h-8zM-160 -40h8v8h-8zM-200 8h8v8h-8zM-208 16h8v8h-8zM-216 24h8v8h-8zM-232 48h8v8h-8zM-240 56h8v8h-8zM-256 80h8v8h-8zM-256 88h8v8h-8zM-264 104h8v8h-8zM-280 128h8v8h-8zM-16 136h48v8h-48zM-16 144h64v8h-64zM-80 152h24v8h-24zM-16 152h56v8h-56zM-96 160h8v8h-8zM-56 160h8v8h-8zM-16 160h16v8h-16zM-48 168h8v8h-8zM-128 176h8v8h-8zM-40 176h16v8h-16zM-40 184h8v8h-8zM-152 192h8v8h-8zM-40 192h8v8h-8zM-40 200h8v8h-8zM-168 216h8v8h-8zM-48 216h8v8h-8zM-48 224h8v8h-8zM-192 232h8v8h-8zM-56 232h8v8h-8zM-64 240h8v8h-8zM-72 248h8v8h-8zM-208 256h8v8h-8zM-80 256h8v8h-8zM-88 264h8v8h-8zM-96 272h8v8h-8zM-104 280h8v8h-8zM-112 288h8v8h-8zM-120 296h8v8h-8zM-152 304h32v8h-32zM-160 312h8v8h-8z"/>
<path fill="#fdc38d" stroke="#fdc38d" d="M208 -208h8v8h-8zM152 -168h8v8h-8zM-312 -152h8v8h-8zM104 -144h8v8h-8zM-320 -128h8v8h-8zM48 -128h8v8h-8zM-328 -104h8v8h-8zM-56 -104h16v8h-16zM0 -104h16v8h-16zM-72 -88h8v8h-8zM-336 -80h8v8h-8zM-80 -80h8v8h-8zM-88 -72h8v8h-8zM-104 -64h8v8h-8zM-144 -56h8v8h-8zM-352 -40h8v8h-8zM-168 -32h8v8h-8zM-176 -24h8v8h-8zM-184 -16h8v8h-8zM-192 -8h8v8h-8zM-200 0h8v8h-8zM-224 32h8v8h-8zM-232 40h8v8h-8zM-248 64h8v8h-8zM-264 96h8v8h-8zM-272 112h8v8h-8zM-88 160h8v8h-8zM-72 160h16v8h-16zM-112 168h8v8h-8zM-56 168h8v8h-8zM-48 176h8v8h-8zM-48 184h8v8h-8zM-48 192h8v8h-8zM-48 200h8v8h-8zM-160 208h8v8h-8zM-48 208h8v8h-8zM-176 224h8v8h-8zM-56 224h8v8h-8zM-64 232h8v8h-8zM-200 240h8v8h-8zM-72 240h8v8h-8zM-80 248h8v8h-8zM-96 264h8v8h-8zM-104 272h8v8h-8zM-112 280h8v8h-8zM-120 288h8v8h-8zM-136 296h16v8h-16zM-160 304h8v8h-8zM-168 312h8v8h-8zM-176 320h16v8h-16z"/>
<path fill="#fdc089" stroke="#fdc089" d="M216 -216h8v8h-8zM176 -184h8v8h-8zM-304 -176h8v8h-8zM136 -160h8v8h-8zM120 -152h8v8h-8zM-312 -144h8v8h-8zM72 -136h8v8h-8zM-320 -120h8v8h-8zM24 -112h8v8h-8zM-64 -104h8v8h-8zM-328 -96h8v8h-8zM-72 -96h8v8h-8zM-336 -72h8v8h-8zM-112 -64h8v8h-8zM-344 -56h8v8h-8zM-152 -56h8v8h-8zM-160 -48h8v8h-8zM-352 -32h8v8h-8zM-360 -24h8v8h-8zM-208 8h8v8h-8zM-216 16h8v8h-8zM-240 48h8v8h-8zM-248 56h8v8h-8zM-256 72h8v8h-8zM-264 88h8v8h-8zM-272 104h8v8h-8zM-280 120h8v8h-8zM-80 160h8v8h-8zM-104 168h8v8h-8zM-64 168h8v8h-8zM-120 176h8v8h-8zM-56 176h8v8h-8zM-136 184h8v8h-8zM-56 208h8v8h-8zM-56 216h8v8h-8zM-64 224h8v8h-8zM-184 232h8v8h-8zM-72 232h8v8h-8zM-200 248h8v8h-8zM-88 256h8v8h-8zM-128 288h8v8h-8zM-152 296h16v8h-16z"/>
<path fill="#fdbd86" stroke="#fdbd86" d="M184 -192h8v8h-8zM-304 -184h8v8h-8zM-304 -168h8v8h-8zM-304 -160h8v8h-8zM96 -144h8v8h-8zM-312 -136h8v8h-8zM32 -120h8v8h-8zM-320 -112h8v8h-8zM-56 -112h48v8h-48zM-328 -88h8v8h-8zM-80 -88h8v8h-8zM-88 -80h8v8h-8zM-96 -72h8v8h-8zM-136 -64h24v8h-24zM-344 -48h8v8h-8zM-168 -40h8v8h-8zM-176 -32h8v8h-8zM-184 -24h8v8h-8zM-192 -16h8v8h-8zM-224 24h8v8h-8zM-232 32h8v8h-8zM-240 40h8v8h-8zM-256 64h8v8h-8zM-264 80h8v8h-8zM-96 168h32v8h-32zM-112 176h8v8h-8zM-64 176h8v8h-8zM-128 184h8v8h-8zM-56 184h8v8h-8zM-144 192h8v8h-8zM-56 192h8v8h-8zM-152 200h8v8h-8zM-56 200h8v8h-8zM-160 216h8v8h-8zM-64 216h8v8h-8zM-168 224h8v8h-8zM-72 224h8v8h-8zM-192 240h8v8h-8zM-80 240h8v8h-8zM-88 248h8v8h-8zM-200 256h8v8h-8zM-96 256h8v8h-8zM-104 264h8v8h-8zM-112 272h8v8h-8zM-120 280h8v8h-8zM-136 288h8v8h-8zM-160 296h8v8h-8zM-168 304h8v8h-8zM-176 312h8v8h-8z"/>
<path fill="#fdb982" stroke="#fdb982" d="M224 -224h8v8h-8zM192 -200h8v8h-8zM160 -176h8v8h-8zM-304 -152h8v8h-8zM64 -136h8v8h-8zM40 -128h8v8h-8zM-8 -112h16v8h-16zM16 -112h8v8h-8zM-72 -104h8v8h-8zM-328 -80h8v8h-8zM-104 -72h8v8h-8zM-336 -64h8v8h-8zM-144 -64h8v8h-8zM-160 -56h8v8h-8zM-344 -40h8v8h-8zM-200 -8h8v8h-8zM-208 0h8v8h-8zM-216 8h8v8h-8zM-248 48h8v8h-8zM-264 72h8v8h-8zM-272 96h8v8h-8zM-280 112h8v8h-8zM-104 176h8v8h-8zM-64 184h8v8h-8zM-64 192h8v8h-8zM-64 200h8v8h-8zM-152 208h8v8h-8zM-64 208h8v8h-8zM-72 216h8v8h-8zM-176 232h8v8h-8zM-80 232h8v8h-8zM-88 240h8v8h-8zM-96 248h8v8h-8zM-104 256h8v8h-8zM-200 264h8v8h-8zM-112 264h8v8h-8zM-120 272h8v8h-8zM-128 280h8v8h-8zM-152 288h16v8h-16zM-168 296h8v8h-8zM-176 304h8v8h-8z"/>
<path fill="#fdb37d" stroke="#fdb37d" d="M200 -208h8v8h-8zM-296 -184h8v8h-8zM144 -168h8v8h-8zM128 -160h8v8h-8zM112 -152h8v8h-8zM88 -144h8v8h-8zM56 -136h8v8h-8zM-312 -128h8v8h-8zM-64 -112h8v8h-8zM8 -112h8v8h-8zM-320 -104h8v8h-8zM-80 -96h8v8h-8zM-88 -88h8v8h-8zM-96 -80h8v8h-8zM-112 -72h8v8h-8zM-152 -64h8v8h-8zM-336 -56h8v8h-8zM-168 -48h8v8h-8zM-352 -24h8v8h-8zM-360 -16h8v8h-8zM-224 16h8v8h-8zM-232 24h8v8h-8zM-240 32h8v8h-8zM-256 56h8v8h-8zM-272 88h8v8h-8zM-280 104h8v8h-8zM-96 176h32v8h-32zM-120 184h8v8h-8zM-136 192h8v8h-8zM-144 200h8v8h-8zM-72 208h8v8h-8zM-80 216h8v8h-8zM-160 224h8v8h-8zM-80 224h8v8h-8zM-88 232h8v8h-8zM-96 240h8v8h-8zM-192 248h8v8h-8zM-104 248h8v8h-8zM-112 256h8v8h-8zM-120 264h8v8h-8zM-136 280h8v8h-8zM-160 288h8v8h-8zM-176 296h8v8h-8zM-184 304h8v8h-8z"/>
<path fill="#fdad77" stroke="#fdad77" d="M208 -216h8v8h-8zM-296 -192h8v8h-8zM168 -184h8v8h-8zM-296 -176h8v8h-8zM-296 -168h8v8h-8zM-304 -144h8v8h-8zM-312 -120h8v8h-8zM-40 -120h24v8h-24zM24 -120h8v8h-8zM-320 -96h8v8h-8zM-328 -72h8v8h-8zM-128 -72h16v8h-16zM-176 -40h8v8h-8zM-344 -32h8v8h-8zM-184 -32h8v8h-8zM-192 -24h8v8h-8zM-200 -16h8v8h-8zM-248 40h8v8h-8zM-256 48h8v8h-8zM-264 64h8v8h-8zM-272 80h8v8h-8zM-288 112h8v8h-8zM-112 184h8v8h-8zM-80 184h16v8h-16zM-72 192h8v8h-8zM-72 200h8v8h-8zM-80 208h8v8h-8zM-152 216h8v8h-8zM-88 224h8v8h-8zM-168 232h8v8h-8zM-96 232h8v8h-8zM-184 240h8v8h-8zM-104 240h8v8h-8zM-112 248h8v8h-8zM-192 256h8v8h-8zM-120 256h8v8h-8zM-192 264h8v8h-8zM-200 272h8v8h-8zM-128 272h8v8h-8zM-144 280h8v8h-8zM-176 288h16v8h-16zM-184 296h8v8h-8z"/>
<path fill="#fda872" stroke="#fda872" d="M176 -192h8v8h-8zM-296 -160h8v8h-8zM104 -152h8v8h-8zM80 -144h8v8h-8zM-304 -136h8v8h-8zM48 -136h8v8h-8zM32 -128h8v8h-8zM-56 -120h16v8h-16zM-16 -120h16v8h-16zM-312 -112h8v8h-8zM-72 -112h8v8h-8zM-80 -104h8v8h-8zM-320 -88h8v8h-8zM-104 -80h8v8h-8zM-144 -72h16v8h-16zM-160 -64h8v8h-8zM-168 -56h8v8h-8zM-336 -48h8v8h-8zM-208 -8h8v8h-8zM-216 0h8v8h-8zM-224 8h8v8h-8zM-232 16h8v8h-8zM-264 56h8v8h-8zM-272 72h8v8h-8zM-280 96h8v8h-8zM-104 184h24v8h-24zM-128 192h8v8h-8zM-88 192h16v8h-16zM-136 200h8v8h-8zM-80 200h8v8h-8zM-144 208h8v8h-8zM-88 208h8v8h-8zM-88 216h8v8h-8zM-152 224h8v8h-8zM-104 224h16v8h-16zM-160 232h8v8h-8zM-112 232h16v8h-16zM-176 240h8v8h-8zM-112 240h8v8h-8zM-120 248h8v8h-8zM-128 264h8v8h-8zM-192 272h8v8h-8zM-136 272h8v8h-8zM-192 280h8v8h-8zM-176 280h32v8h-32zM-192 288h16v8h-16z"/>
<path fill="#fca26d" stroke="#fca26d" d="M216 -224h8v8h-8zM-288 -192h8v8h-8zM152 -176h8v8h-8zM136 -168h8v8h-8zM120 -160h8v8h-8zM-296 -152h8v8h-8zM-304 -128h8v8h-8zM-64 -120h8v8h-8zM-88 -96h8v8h-8zM-96 -88h8v8h-8zM-320 -80h8v8h-8zM-112 -80h8v8h-8zM-328 -64h8v8h-8zM-176 -48h8v8h-8zM-336 -40h8v8h-8zM-344 -24h8v8h-8zM-352 -16h8v8h-8zM-240 24h8v8h-8zM-248 32h8v8h-8zM-256 40h8v8h-8zM-272 64h8v8h-8zM-280 88h8v8h-8zM-288 104h8v8h-8zM-120 192h32v8h-32zM-96 200h16v8h-16zM-96 208h8v8h-8zM-144 216h8v8h-8zM-96 216h8v8h-8zM-112 224h8v8h-8zM-120 232h8v8h-8zM-168 240h8v8h-8zM-120 240h8v8h-8zM-184 248h8v8h-8zM-128 248h8v8h-8zM-184 256h8v8h-8zM-128 256h8v8h-8zM-184 264h8v8h-8zM-184 272h8v8h-8zM-144 272h8v8h-8zM-184 280h8v8h-8z"/>
<path fill="#fc9c67" stroke="#fc9c67" d="M184 -200h8v8h-8zM-288 -184h8v8h-8zM-288 -176h8v8h-8zM-288 -168h8v8h-8zM96 -152h8v8h-8zM-296 -144h8v8h-8zM72 -144h8v8h-8zM40 -136h8v8h-8zM-304 -120h8v8h-8zM0 -120h8v8h-8zM16 -120h8v8h-8zM-312 -104h8v8h-8zM-152 -72h8v8h-8zM-328 -56h8v8h-8zM-184 -40h8v8h-8zM-336 -32h8v8h-8zM-192 -32h8v8h-8zM-200 -24h8v8h-8zM-208 -16h8v8h-8zM-216 -8h8v8h-8zM-264 48h8v8h-8zM-280 80h8v8h-8zM-128 200h8v8h-8zM-104 200h8v8h-8zM-136 208h8v8h-8zM-104 208h8v8h-8zM-104 216h8v8h-8zM-144 224h8v8h-8zM-120 224h8v8h-8zM-152 232h8v8h-8zM-128 232h8v8h-8zM-128 240h8v8h-8zM-176 248h8v8h-8zM-136 264h8v8h-8zM-176 272h32v8h-32z"/>
<path fill="#fc9662" stroke="#fc9662" d="M200 -216h8v8h-8zM192 -208h8v8h-8zM160 -184h8v8h-8zM-288 -160h8v8h-8zM64 -144h8v8h-8zM-296 -136h8v8h-8zM-48 -128h40v8h-40zM-72 -120h8v8h-8zM8 -120h8v8h-8zM-80 -112h8v8h-8zM-312 -96h8v8h-8zM-104 -88h8v8h-8zM-128 -80h16v8h-16zM-320 -72h8v8h-8zM-168 -64h8v8h-8zM-328 -48h8v8h-8zM-224 0h8v8h-8zM-232 8h8v8h-8zM-240 16h8v8h-8zM-248 24h8v8h-8zM-256 32h8v8h-8zM-272 56h8v8h-8zM-280 72h8v8h-8zM-288 96h8v8h-8zM-296 104h8v8h-8zM-120 200h16v8h-16zM-128 208h8v8h-8zM-112 208h8v8h-8zM-136 216h32v8h-32zM-136 224h16v8h-16zM-144 232h16v8h-16zM-160 240h16v8h-16zM-136 240h8v8h-8zM-168 248h8v8h-8zM-136 248h8v8h-8zM-176 256h8v8h-8zM-136 256h8v8h-8zM-176 264h16v8h-16zM-144 264h8v8h-8z"/>
<path fill="#fc915c" stroke="#fc915c" d="M-280 -192h8v8h-8zM144 -176h8v8h-8zM112 -160h8v8h-8zM-288 -152h8v8h-8zM88 -152h8v8h-8zM32 -136h8v8h-8zM-296 -128h8v8h-8zM-56 -128h8v8h-8zM24 -128h8v8h-8zM-304 -112h8v8h-8zM-88 -104h8v8h-8zM-96 -96h8v8h-8zM-312 -88h8v8h-8zM-136 -80h8v8h-8zM-160 -72h8v8h-8zM-320 -64h8v8h-8zM-176 -56h8v8h-8zM-328 -40h8v8h-8zM-336 -24h8v8h-8zM-344 -16h8v8h-8zM-352 -8h8v8h-8zM-264 40h8v8h-8zM-272 48h8v8h-8zM-280 64h8v8h-8zM-288 88h8v8h-8zM-120 208h8v8h-8zM-144 240h8v8h-8zM-160 248h24v8h-24zM-168 256h16v8h-16zM-144 256h8v8h-8zM-160 264h16v8h-16z"/>
<path fill="#fb8a58" stroke="#fb8a58" d="M176 -272h8v8h-8zM208 -224h8v8h-8zM-280 -200h8v8h-8zM168 -192h8v8h-8zM-280 -184h8v8h-8zM-280 -176h8v8h-8zM-280 -168h8v8h-8zM128 -168h8v8h-8zM-280 -160h8v8h-8zM-288 -144h8v8h-8zM56 -144h8v8h-8zM-64 -128h8v8h-8zM-8 -128h8v8h-8zM-296 -120h8v8h-8zM-304 -104h8v8h-8zM-112 -88h8v8h-8zM-312 -80h8v8h-8zM-144 -80h8v8h-8zM-320 -56h8v8h-8zM-184 -48h8v8h-8zM-192 -40h8v8h-8zM-328 -32h8v8h-8zM-200 -32h8v8h-8zM-208 -24h8v8h-8zM-216 -16h8v8h-8zM-224 -8h8v8h-8zM-232 0h8v8h-8zM-240 8h8v8h-8zM-248 16h8v8h-8zM-256 24h8v8h-8zM-280 56h8v8h-8zM-288 80h8v8h-8zM-296 96h8v8h-8zM-152 256h8v8h-8z"/>
<path fill="#f98556" stroke="#f98556" d="M184 -288h8v8h-8zM176 -280h24v8h-24zM168 -272h8v8h-8zM184 -272h8v8h-8zM160 -264h24v8h-24zM160 -256h8v8h-8zM216 -232h8v8h-8zM176 -200h8v8h-8zM-280 -152h8v8h-8zM80 -152h8v8h-8zM48 -144h8v8h-8zM-288 -136h8v8h-8zM-40 -136h24v8h-24zM0 -128h8v8h-8zM-296 -112h8v8h-8zM-304 -96h8v8h-8zM-104 -96h8v8h-8zM-120 -88h8v8h-8zM-152 -80h8v8h-8zM-312 -72h8v8h-8zM-168 -72h8v8h-8zM-176 -64h8v8h-8zM-320 -48h8v8h-8zM-320 -40h8v8h-8zM-264 32h8v8h-8zM-272 40h8v8h-8zM-288 72h8v8h-8z"/>
<path fill="#f88053" stroke="#f88053" d="M176 -288h8v8h-8zM168 -280h8v8h-8zM160 -272h8v8h-8zM152 -264h8v8h-8zM152 -256h8v8h-8zM168 -256h8v8h-8zM152 -248h8v8h-8zM184 -208h8v8h-8zM-272 -200h8v8h-8zM-272 -192h8v8h-8zM-272 -184h8v8h-8zM152 -184h8v8h-8zM-272 -176h8v8h-8zM-272 -168h8v8h-8zM104 -160h8v8h-8zM-280 -144h8v8h-8zM40 -144h8v8h-8zM-56 -136h16v8h-16zM-16 -136h8v8h-8zM-288 -128h8v8h-8zM-72 -128h8v8h-8zM8 -128h16v8h-16zM-80 -120h8v8h-8zM-88 -112h8v8h-8zM-296 -104h8v8h-8zM-96 -104h8v8h-8zM-304 -88h8v8h-8zM-128 -88h8v8h-8zM-312 -64h8v8h-8zM-184 -56h8v8h-8zM-320 -32h8v8h-8zM-328 -24h8v8h-8zM-336 -16h8v8h-8zM-344 -8h8v8h-8zM-240 0h8v8h-8zM-248 8h8v8h-8zM-256 16h8v8h-8zM-264 24h8v8h-8zM-272 32h8v8h-8zM-280 48h8v8h-8zM-288 56h8v8h-8zM-288 64h8v8h-8zM-296 80h8v8h-8zM-304 88h16v8h-16z"/>
<path fill="#f67b51" stroke="#f67b51" d="M184 -296h8v8h-8zM192 -272h8v8h-8zM184 -264h8v8h-8zM144 -256h8v8h-8zM176 -256h8v8h-8zM144 -248h8v8h-8zM160 -248h8v8h-8zM200 -224h8v8h-8zM192 -216h8v8h-8zM-96 -176h16v8h-16zM136 -176h8v8h-8zM120 -168h8v8h-8zM-272 -160h8v8h-8zM-272 -152h8v8h-8zM72 -152h8v8h-8zM-280 -136h8v8h-8zM-64 -136h8v8h-8zM-8 -136h8v8h-8zM24 -136h8v8h-8zM-288 -120h8v8h-8zM-296 -96h8v8h-8zM-112 -96h8v8h-8zM-136 -88h8v8h-8zM-304 -80h8v8h-8zM-160 -80h8v8h-8zM-304 -72h8v8h-8zM-312 -56h8v8h-8zM-312 -48h8v8h-8zM-192 -48h8v8h-8zM-224 -16h8v8h-8zM-232 -8h8v8h-8zM-352 0h8v8h-8zM-280 40h8v8h-8zM-288 48h8v8h-8zM-296 64h8v8h-8zM-296 72h8v8h-8z"/>
<path fill="#f4764f" stroke="#f4764f" d="M176 -296h8v8h-8zM168 -288h8v8h-8zM160 -280h8v8h-8zM152 -272h8v8h-8zM144 -264h8v8h-8zM136 -256h8v8h-8zM136 -248h8v8h-8zM168 -248h8v8h-8zM136 -240h24v8h-24zM208 -232h8v8h-8zM-264 -192h8v8h-8zM160 -192h8v8h-8zM-264 -184h8v8h-8zM-96 -184h16v8h-16zM-264 -176h8v8h-8zM96 -160h8v8h-8zM-272 -144h8v8h-8zM-48 -144h32v8h-32zM32 -144h8v8h-8zM-280 -128h8v8h-8zM-288 -112h8v8h-8zM-296 -88h8v8h-8zM-144 -88h8v8h-8zM-176 -72h8v8h-8zM-304 -64h8v8h-8zM-184 -64h8v8h-8zM-312 -40h8v8h-8zM-200 -40h8v8h-8zM-208 -32h8v8h-8zM-320 -24h8v8h-8zM-216 -24h8v8h-8zM-328 -16h8v8h-8zM-248 0h8v8h-8zM-256 8h8v8h-8zM-264 16h8v8h-8zM-272 24h8v8h-8zM-280 32h8v8h-8zM-288 40h8v8h-8zM-296 48h8v8h-8zM-296 56h8v8h-8zM-304 72h8v8h-8zM-304 80h8v8h-8z"/>
<path fill="#f3714d" stroke="#f3714d" d="M192 -264h8v8h-8zM184 -256h8v8h-8zM128 -248h8v8h-8zM176 -248h8v8h-8zM128 -240h8v8h-8zM160 -240h8v8h-8zM128 -232h24v8h-24zM-264 -200h8v8h-8zM168 -200h8v8h-8zM144 -184h8v8h-8zM-80 -176h8v8h-8zM-264 -168h8v8h-8zM-96 -168h16v8h-16zM-264 -160h8v8h-8zM88 -160h8v8h-8zM64 -152h8v8h-8zM-56 -144h8v8h-8zM-16 -144h8v8h-8zM-272 -136h8v8h-8zM-72 -136h8v8h-8zM0 -136h8v8h-8zM16 -136h8v8h-8zM-80 -128h8v8h-8zM-280 -120h8v8h-8zM-88 -120h8v8h-8zM-288 -104h8v8h-8zM-104 -104h8v8h-8zM-120 -96h8v8h-8zM-296 -80h8v8h-8zM-168 -80h8v8h-8zM-304 -56h8v8h-8zM-304 -48h8v8h-8zM-312 -32h8v8h-8zM-232 -16h8v8h-8zM-336 -8h8v8h-8zM-240 -8h8v8h-8zM-344 0h8v8h-8zM-256 0h8v8h-8zM-264 8h8v8h-8zM-272 16h8v8h-8zM-288 24h16v8h-16zM-296 32h16v8h-16zM-296 40h8v8h-8zM-304 48h8v8h-8zM-304 56h8v8h-8zM-312 64h16v8h-16zM-312 72h8v8h-8z"/>
<path fill="#f16c4b" stroke="#f16c4b" d="M136 -264h8v8h-8zM200 -264h8v8h-8zM128 -256h8v8h-8zM120 -248h8v8h-8zM120 -240h8v8h-8zM168 -240h8v8h-8zM216 -240h8v8h-8zM112 -232h16v8h-16zM152 -232h8v8h-8zM120 -224h16v8h-16zM184 -216h8v8h-8zM-264 -208h8v8h-8zM176 -208h8v8h-8zM-256 -200h8v8h-8zM-256 -192h8v8h-8zM-256 -184h8v8h-8zM-80 -184h8v8h-8zM-256 -176h8v8h-8zM-104 -176h8v8h-8zM128 -176h8v8h-8zM-80 -168h8v8h-8zM112 -168h8v8h-8zM-264 -152h8v8h-8zM-48 -152h32v8h-32zM56 -152h8v8h-8zM-64 -144h8v8h-8zM-8 -144h8v8h-8zM8 -136h8v8h-8zM-280 -112h8v8h-8zM-96 -112h8v8h-8zM-288 -96h8v8h-8zM-128 -96h8v8h-8zM-152 -88h8v8h-8zM-296 -72h8v8h-8zM-296 -64h8v8h-8zM-192 -56h8v8h-8zM-304 -40h8v8h-8zM-312 -24h8v8h-8zM-224 -24h8v8h-8zM-320 -16h8v8h-8zM-248 -8h8v8h-8zM-264 0h8v8h-8zM-272 8h8v8h-8zM-288 16h16v8h-16zM-296 24h8v8h-8zM-312 32h16v8h-16zM-320 40h24v8h-24zM-320 48h16v8h-16zM-320 56h16v8h-16z"/>
<path fill="#f06749" stroke="#f06749" d="M176 -304h8v8h-8zM168 -296h8v8h-8zM160 -288h8v8h-8zM152 -280h8v8h-8zM144 -272h8v8h-8zM192 -256h8v8h-8zM112 -248h8v8h-8zM184 -248h8v8h-8zM112 -240h8v8h-8zM208 -240h8v8h-8zM200 -232h8v8h-8zM104 -224h16v8h-16zM136 -224h8v8h-8zM192 -224h8v8h-8zM112 -216h8v8h-8zM-256 -208h8v8h-8zM152 -192h8v8h-8zM-256 -168h8v8h-8zM-88 -160h8v8h-8zM-48 -160h24v8h-24zM80 -160h8v8h-8zM-64 -152h16v8h-16zM-16 -152h8v8h-8zM48 -152h8v8h-8zM-264 -144h8v8h-8zM-72 -144h8v8h-8zM24 -144h8v8h-8zM-80 -136h8v8h-8zM-272 -128h8v8h-8zM-280 -104h8v8h-8zM-112 -104h8v8h-8zM-136 -96h8v8h-8zM-288 -88h8v8h-8zM-160 -88h8v8h-8zM-288 -80h8v8h-8zM-184 -72h8v8h-8zM-296 -56h8v8h-8zM-296 -48h8v8h-8zM-200 -48h8v8h-8zM-208 -40h8v8h-8zM-304 -32h8v8h-8zM-216 -32h8v8h-8zM-240 -16h8v8h-8zM-328 -8h8v8h-8zM-256 -8h8v8h-8zM-336 0h8v8h-8zM-272 0h8v8h-8zM-344 8h8v8h-8zM-288 8h16v8h-16zM-296 16h8v8h-8zM-312 24h16v8h-16zM-328 32h16v8h-16zM-328 40h8v8h-8z"/>
<path fill="#ed6145" stroke="#ed6145" d="M-32 -304h8v8h-8zM-32 -296h8v8h-8zM128 -264h8v8h-8zM120 -256h8v8h-8zM200 -256h8v8h-8zM104 -248h8v8h-8zM192 -248h8v8h-8zM104 -240h8v8h-8zM176 -240h8v8h-8zM104 -232h8v8h-8zM160 -232h8v8h-8zM96 -224h8v8h-8zM144 -224h8v8h-8zM-256 -216h8v8h-8zM96 -216h16v8h-16zM120 -216h16v8h-16zM-248 -208h8v8h-8zM-248 -200h8v8h-8zM160 -200h8v8h-8zM-248 -192h8v8h-8zM-88 -192h16v8h-16zM-248 -184h8v8h-8zM-104 -184h8v8h-8zM-72 -184h8v8h-8zM136 -184h8v8h-8zM-72 -176h8v8h-8zM-104 -168h8v8h-8zM-72 -168h8v8h-8zM-48 -168h24v8h-24zM104 -168h8v8h-8zM-256 -160h8v8h-8zM-96 -160h8v8h-8zM-80 -160h32v8h-32zM-24 -160h8v8h-8zM72 -160h8v8h-8zM-80 -152h16v8h-16zM-8 -152h8v8h-8zM40 -152h8v8h-8zM-80 -144h8v8h-8zM0 -144h8v8h-8zM-264 -136h8v8h-8zM-88 -128h8v8h-8zM-272 -120h8v8h-8zM-104 -112h8v8h-8zM-120 -104h8v8h-8zM-280 -96h8v8h-8zM-144 -96h8v8h-8zM-176 -80h8v8h-8zM-288 -72h8v8h-8zM-288 -64h8v8h-8zM-192 -64h8v8h-8zM-296 -40h8v8h-8zM-304 -24h8v8h-8zM-232 -24h8v8h-8zM-312 -16h8v8h-8zM-248 -16h8v8h-8zM-320 -8h8v8h-8zM-264 -8h8v8h-8zM-280 0h8v8h-8zM-296 8h8v8h-8zM-312 16h16v8h-16zM-336 24h24v8h-24zM-336 32h8v8h-8z"/>
<path fill="#ea5a3f" stroke="#ea5a3f" d="M-32 -312h16v8h-16zM-40 -304h8v8h-8zM-24 -304h8v8h-8zM-40 -296h8v8h-8zM-24 -296h8v8h-8zM-40 -288h16v8h-16zM136 -272h8v8h-8zM64 -256h16v8h-16zM104 -256h16v8h-16zM208 -256h8v8h-8zM64 -248h40v8h-40zM200 -248h16v8h-16zM88 -240h16v8h-16zM184 -240h24v8h-24zM88 -232h16v8h-16zM168 -232h8v8h-8zM192 -232h8v8h-8zM152 -224h8v8h-8zM184 -224h8v8h-8zM-248 -216h8v8h-8zM136 -216h8v8h-8zM176 -216h8v8h-8zM96 -208h24v8h-24zM168 -208h8v8h-8zM-96 -192h8v8h-8zM-32 -184h8v8h-8zM-248 -176h8v8h-8zM-64 -176h40v8h-40zM120 -176h8v8h-8zM-64 -168h16v8h-16zM-24 -168h8v8h-8zM96 -168h8v8h-8zM-16 -160h8v8h-8zM-256 -152h8v8h-8zM8 -144h16v8h-16zM-96 -120h8v8h-8zM-272 -112h8v8h-8zM-128 -104h8v8h-8zM-280 -88h8v8h-8zM-168 -88h8v8h-8zM-288 -56h8v8h-8zM-200 -56h8v8h-8zM-288 -48h8v8h-8zM-296 -32h8v8h-8zM-224 -32h8v8h-8zM-312 -8h8v8h-8zM-272 -8h8v8h-8zM-328 0h8v8h-8zM-288 0h8v8h-8zM-336 8h16v8h-16zM-312 8h16v8h-16zM-344 16h32v8h-32z"/>
<path fill="#e7533a" stroke="#e7533a" d="M104 -344h16v8h-16zM104 -336h16v8h-16zM-24 -320h8v8h-8zM-40 -312h8v8h-8zM-16 -312h8v8h-8zM176 -312h8v8h-8zM-16 -304h8v8h-8zM168 -304h8v8h-8zM160 -296h8v8h-8zM-48 -288h8v8h-8zM-24 -288h8v8h-8zM152 -288h8v8h-8zM-40 -280h16v8h-16zM144 -280h8v8h-8zM72 -272h8v8h-8zM56 -264h40v8h-40zM112 -264h16v8h-16zM56 -256h8v8h-8zM80 -256h24v8h-24zM56 -248h8v8h-8zM56 -240h32v8h-32zM64 -232h24v8h-24zM176 -232h16v8h-16zM-240 -224h8v8h-8zM-40 -224h24v8h-24zM80 -224h16v8h-16zM160 -224h8v8h-8zM176 -224h8v8h-8zM-240 -216h8v8h-8zM-40 -216h24v8h-24zM88 -216h8v8h-8zM144 -216h8v8h-8zM-240 -208h8v8h-8zM-40 -208h16v8h-16zM88 -208h8v8h-8zM120 -208h8v8h-8zM-240 -200h8v8h-8zM-40 -200h16v8h-16zM96 -200h8v8h-8zM-240 -192h8v8h-8zM-72 -192h8v8h-8zM-40 -192h16v8h-16zM144 -192h8v8h-8zM-64 -184h32v8h-32zM-24 -184h8v8h-8zM-24 -176h8v8h-8zM-248 -168h8v8h-8zM88 -168h8v8h-8zM64 -160h8v8h-8zM-88 -152h8v8h-8zM0 -152h8v8h-8zM32 -152h8v8h-8zM-256 -144h8v8h-8zM-88 -144h8v8h-8zM-88 -136h8v8h-8zM-264 -128h8v8h-8zM-112 -112h8v8h-8zM-272 -104h8v8h-8zM-152 -96h8v8h-8zM-280 -80h8v8h-8zM-208 -48h8v8h-8zM-288 -40h8v8h-8zM-216 -40h8v8h-8zM-296 -24h8v8h-8zM-240 -24h8v8h-8zM-304 -16h8v8h-8zM-256 -16h8v8h-8zM-304 -8h8v8h-8zM-280 -8h8v8h-8zM-320 0h32v8h-32zM-320 8h8v8h-8z"/>
<path fill="#e44d35" stroke="#e44d35" d="M136 -376h8v8h-8zM128 -368h24v8h-24zM112 -360h40v8h-40zM96 -352h48v8h-48zM88 -344h16v8h-16zM120 -344h16v8h-16zM88 -336h16v8h-16zM120 -336h8v8h-8zM88 -328h32v8h-32zM-32 -320h8v8h-8zM-16 -320h8v8h-8zM88 -320h32v8h-32zM96 -312h16v8h-16zM-48 -304h8v8h-8zM-48 -296h8v8h-8zM-16 -296h8v8h-8zM-16 -288h8v8h-8zM-48 -280h8v8h-8zM-24 -280h8v8h-8zM72 -280h24v8h-24zM-40 -272h16v8h-16zM56 -272h16v8h-16zM80 -272h24v8h-24zM128 -272h8v8h-8zM48 -264h8v8h-8zM96 -264h16v8h-16zM48 -256h8v8h-8zM48 -248h8v8h-8zM48 -240h8v8h-8zM-40 -232h24v8h-24zM48 -232h16v8h-16zM-48 -224h8v8h-8zM64 -224h16v8h-16zM168 -224h8v8h-8zM-232 -216h8v8h-8zM-48 -216h8v8h-8zM72 -216h16v8h-16zM152 -216h24v8h-24zM-48 -208h8v8h-8zM-24 -208h8v8h-8zM80 -208h8v8h-8zM128 -208h8v8h-8zM160 -208h8v8h-8zM-80 -200h8v8h-8zM-48 -200h8v8h-8zM-24 -200h8v8h-8zM88 -200h8v8h-8zM104 -200h16v8h-16zM152 -200h8v8h-8zM-64 -192h24v8h-24zM-24 -192h8v8h-8zM-240 -184h8v8h-8zM128 -184h8v8h-8zM112 -176h8v8h-8zM-16 -168h8v8h-8zM80 -168h8v8h-8zM-248 -160h8v8h-8zM-104 -160h8v8h-8zM-8 -160h8v8h-8zM56 -160h8v8h-8zM-96 -152h8v8h-8zM-96 -128h8v8h-8zM-264 -120h8v8h-8zM-104 -120h8v8h-8zM-120 -112h8v8h-8zM-136 -104h8v8h-8zM-272 -96h8v8h-8zM-184 -80h8v8h-8zM-280 -72h8v8h-8zM-192 -72h8v8h-8zM-280 -64h8v8h-8zM-280 -56h8v8h-8zM-288 -32h8v8h-8zM-232 -32h8v8h-8zM-248 -24h8v8h-8zM-296 -16h8v8h-8zM-264 -16h8v8h-8zM-296 -8h16v8h-16z"/>
<path fill="#e14630" stroke="#e14630" d="M136 -384h8v8h-8zM128 -376h8v8h-8zM112 -368h16v8h-16zM88 -360h24v8h-24zM80 -352h16v8h-16zM144 -352h8v8h-8zM72 -344h16v8h-16zM136 -344h8v8h-8zM72 -336h16v8h-16zM128 -336h8v8h-8zM-24 -328h16v8h-16zM72 -328h16v8h-16zM120 -328h8v8h-8zM-8 -320h8v8h-8zM72 -320h16v8h-16zM120 -320h8v8h-8zM-8 -312h8v8h-8zM80 -312h16v8h-16zM112 -312h8v8h-8zM168 -312h8v8h-8zM-8 -304h8v8h-8zM80 -304h32v8h-32zM160 -304h8v8h-8zM-8 -296h8v8h-8zM80 -296h32v8h-32zM152 -296h8v8h-8zM-56 -288h8v8h-8zM72 -288h32v8h-32zM144 -288h8v8h-8zM56 -280h16v8h-16zM96 -280h16v8h-16zM136 -280h8v8h-8zM-48 -272h8v8h-8zM-24 -272h8v8h-8zM48 -272h8v8h-8zM104 -272h24v8h-24zM-40 -264h16v8h-16zM40 -256h8v8h-8zM40 -248h8v8h-8zM-48 -240h24v8h-24zM40 -240h8v8h-8zM-48 -232h8v8h-8zM-16 -232h8v8h-8zM40 -232h8v8h-8zM-232 -224h8v8h-8zM-16 -224h8v8h-8zM48 -224h16v8h-16zM-224 -216h8v8h-8zM-56 -216h8v8h-8zM-16 -216h8v8h-8zM56 -216h16v8h-16zM-232 -208h8v8h-8zM-56 -208h8v8h-8zM72 -208h8v8h-8zM136 -208h24v8h-24zM-232 -200h8v8h-8zM-88 -200h8v8h-8zM-72 -200h24v8h-24zM80 -200h8v8h-8zM120 -200h8v8h-8zM144 -200h8v8h-8zM88 -192h16v8h-16zM136 -192h8v8h-8zM-240 -176h8v8h-8zM-112 -176h8v8h-8zM-16 -176h8v8h-8zM96 -176h16v8h-16zM72 -168h8v8h-8zM48 -160h8v8h-8zM8 -152h8v8h-8zM24 -152h8v8h-8zM-256 -136h8v8h-8zM-128 -112h8v8h-8zM-144 -104h8v8h-8zM-160 -96h8v8h-8zM-272 -88h8v8h-8zM-176 -88h8v8h-8zM-200 -64h8v8h-8zM-280 -48h8v8h-8zM-216 -48h8v8h-8zM-280 -40h8v8h-8zM-224 -40h8v8h-8zM-240 -32h8v8h-8zM-288 -24h8v8h-8zM-256 -24h8v8h-8zM-288 -16h24v8h-24z"/>
<path fill="#de3f2b" stroke="#de3f2b" d="M128 -392h8v8h-8zM128 -384h8v8h-8zM120 -376h8v8h-8zM96 -368h16v8h-16zM64 -360h24v8h-24zM64 -352h16v8h-16zM152 -352h8v8h-8zM56 -344h16v8h-16zM144 -344h8v8h-8zM56 -336h16v8h-16zM136 -336h8v8h-8zM-8 -328h8v8h-8zM48 -328h24v8h-24zM128 -328h8v8h-8zM-40 -320h8v8h-8zM0 -320h8v8h-8zM48 -320h24v8h-24zM-48 -312h8v8h-8zM0 -312h8v8h-8zM56 -312h24v8h-24zM120 -312h8v8h-8zM0 -304h8v8h-8zM64 -304h16v8h-16zM112 -304h16v8h-16zM-56 -296h8v8h-8zM64 -296h16v8h-16zM112 -296h8v8h-8zM-8 -288h8v8h-8zM56 -288h16v8h-16zM104 -288h16v8h-16zM136 -288h8v8h-8zM-56 -280h8v8h-8zM-16 -280h8v8h-8zM48 -280h8v8h-8zM112 -280h24v8h-24zM-56 -272h8v8h-8zM40 -272h8v8h-8zM-48 -264h8v8h-8zM-24 -264h8v8h-8zM40 -264h8v8h-8zM-48 -256h24v8h-24zM32 -256h8v8h-8zM-48 -248h24v8h-24zM32 -248h8v8h-8zM-56 -240h8v8h-8zM-24 -240h16v8h-16zM32 -240h8v8h-8zM-56 -232h8v8h-8zM-8 -232h8v8h-8zM32 -232h8v8h-8zM-224 -224h8v8h-8zM-56 -224h8v8h-8zM-8 -224h8v8h-8zM32 -224h16v8h-16zM40 -216h16v8h-16zM-224 -208h8v8h-8zM-72 -208h16v8h-16zM-16 -208h8v8h-8zM56 -208h16v8h-16zM-16 -200h8v8h-8zM72 -200h8v8h-8zM128 -200h16v8h-16zM-232 -192h8v8h-8zM-104 -192h8v8h-8zM-16 -192h8v8h-8zM72 -192h16v8h-16zM104 -192h16v8h-16zM128 -192h8v8h-8zM-232 -184h8v8h-8zM-16 -184h8v8h-8zM80 -184h48v8h-48zM80 -176h16v8h-16zM-240 -168h8v8h-8zM-112 -168h8v8h-8zM-8 -168h8v8h-8zM64 -168h8v8h-8zM0 -160h8v8h-8zM40 -160h8v8h-8zM-248 -152h8v8h-8zM16 -152h8v8h-8zM-96 -144h8v8h-8zM-96 -136h8v8h-8zM-120 -120h16v8h-16zM-264 -112h8v8h-8zM-272 -80h8v8h-8zM-272 -72h8v8h-8zM-208 -56h8v8h-8zM-232 -40h8v8h-8zM-280 -32h8v8h-8zM-248 -32h8v8h-8zM-280 -24h24v8h-24z"/>
<path fill="#db3926" stroke="#db3926" d="M128 -400h8v8h-8zM120 -392h8v8h-8zM120 -384h8v8h-8zM104 -376h16v8h-16zM64 -368h32v8h-32zM56 -360h8v8h-8zM48 -352h16v8h-16zM48 -344h8v8h-8zM152 -344h8v8h-8zM-16 -336h24v8h-24zM40 -336h16v8h-16zM144 -336h8v8h-8zM-32 -328h8v8h-8zM0 -328h16v8h-16zM32 -328h16v8h-16zM136 -328h8v8h-8zM8 -320h40v8h-40zM128 -320h8v8h-8zM168 -320h8v8h-8zM8 -312h16v8h-16zM32 -312h24v8h-24zM128 -312h8v8h-8zM160 -312h8v8h-8zM-56 -304h8v8h-8zM8 -304h8v8h-8zM40 -304h24v8h-24zM152 -304h8v8h-8zM0 -296h8v8h-8zM48 -296h16v8h-16zM120 -296h16v8h-16zM144 -296h8v8h-8zM0 -288h8v8h-8zM48 -288h8v8h-8zM120 -288h16v8h-16zM-8 -280h8v8h-8zM40 -280h8v8h-8zM-16 -272h8v8h-8zM-56 -264h8v8h-8zM32 -264h8v8h-8zM-56 -256h8v8h-8zM-24 -256h8v8h-8zM24 -256h8v8h-8zM-56 -248h8v8h-8zM-24 -248h8v8h-8zM24 -248h8v8h-8zM-64 -240h8v8h-8zM-8 -240h16v8h-16zM16 -240h16v8h-16zM-224 -232h8v8h-8zM-64 -232h8v8h-8zM0 -232h32v8h-32zM-216 -224h8v8h-8zM-64 -224h8v8h-8zM0 -224h8v8h-8zM16 -224h16v8h-16zM-216 -216h8v8h-8zM-64 -216h8v8h-8zM-8 -216h8v8h-8zM24 -216h16v8h-16zM-80 -208h8v8h-8zM40 -208h16v8h-16zM-224 -200h8v8h-8zM-96 -200h8v8h-8zM56 -200h16v8h-16zM64 -192h8v8h-8zM120 -192h8v8h-8zM72 -184h8v8h-8zM72 -176h8v8h-8zM56 -168h8v8h-8zM-104 -152h8v8h-8zM-256 -128h8v8h-8zM-104 -128h8v8h-8zM-128 -120h8v8h-8zM-136 -112h8v8h-8zM-264 -104h8v8h-8zM-152 -104h8v8h-8zM-168 -96h8v8h-8zM-192 -80h8v8h-8zM-200 -72h8v8h-8zM-272 -64h8v8h-8zM-272 -56h8v8h-8zM-272 -48h8v8h-8zM-224 -48h8v8h-8zM-272 -40h8v8h-8zM-240 -40h8v8h-8zM-272 -32h24v8h-24z"/>
<path fill="#d83221" stroke="#d83221" d="M104 -416h16v8h-16zM104 -408h24v8h-24zM120 -400h8v8h-8zM104 -384h16v8h-16zM56 -376h48v8h-48zM48 -368h16v8h-16zM40 -360h16v8h-16zM-8 -352h8v8h-8zM32 -352h16v8h-16zM-24 -344h72v8h-72zM-40 -336h24v8h-24zM8 -336h32v8h-32zM152 -336h8v8h-8zM16 -328h16v8h-16zM136 -320h8v8h-8zM24 -312h8v8h-8zM136 -312h8v8h-8zM16 -304h24v8h-24zM128 -304h24v8h-24zM8 -296h40v8h-40zM136 -296h8v8h-8zM-64 -288h8v8h-8zM8 -288h8v8h-8zM32 -288h16v8h-16zM-64 -280h8v8h-8zM0 -280h8v8h-8zM32 -280h8v8h-8zM-64 -272h8v8h-8zM-8 -272h8v8h-8zM24 -272h16v8h-16zM-16 -264h16v8h-16zM24 -264h8v8h-8zM-64 -256h8v8h-8zM-16 -256h8v8h-8zM16 -256h8v8h-8zM-64 -248h8v8h-8zM-16 -248h40v8h-40zM-72 -240h8v8h-8zM8 -240h8v8h-8zM-72 -232h8v8h-8zM-208 -224h8v8h-8zM-72 -224h8v8h-8zM8 -224h8v8h-8zM-72 -216h8v8h-8zM16 -216h8v8h-8zM-216 -208h8v8h-8zM32 -208h8v8h-8zM40 -200h16v8h-16zM-224 -192h8v8h-8zM56 -192h8v8h-8zM-112 -184h8v8h-8zM64 -184h8v8h-8zM-232 -176h8v8h-8zM-8 -176h8v8h-8zM64 -176h8v8h-8zM0 -168h8v8h-8zM48 -168h8v8h-8zM-240 -160h8v8h-8zM8 -160h8v8h-8zM32 -160h8v8h-8zM-248 -144h8v8h-8zM-104 -144h8v8h-8zM-104 -136h8v8h-8zM-120 -128h16v8h-16zM-264 -96h8v8h-8zM-184 -88h8v8h-8zM-208 -64h8v8h-8zM-216 -56h8v8h-8zM-264 -48h8v8h-8zM-232 -48h8v8h-8zM-264 -40h24v8h-24z"/>
<path fill="#d32a1b" stroke="#d32a1b" d="M96 -408h8v8h-8zM80 -400h40v8h-40zM64 -392h56v8h-56zM48 -384h56v8h-56zM32 -376h24v8h-24zM24 -368h24v8h-24zM8 -360h32v8h-32zM0 -352h32v8h-32zM160 -336h8v8h-8zM-40 -328h8v8h-8zM144 -328h32v8h-32zM-48 -320h8v8h-8zM144 -320h8v8h-8zM160 -320h8v8h-8zM-56 -312h8v8h-8zM144 -312h16v8h-16zM-64 -296h8v8h-8zM16 -288h16v8h-16zM8 -280h24v8h-24zM0 -272h24v8h-24zM-64 -264h8v8h-8zM0 -264h24v8h-24zM-8 -256h24v8h-24zM-72 -248h8v8h-8zM-216 -232h8v8h-8zM-208 -216h8v8h-8zM-80 -216h8v8h-8zM0 -216h16v8h-16zM-88 -208h8v8h-8zM-8 -208h8v8h-8zM24 -208h8v8h-8zM-8 -200h8v8h-8zM32 -200h8v8h-8zM-8 -192h8v8h-8zM48 -192h8v8h-8zM-224 -184h8v8h-8zM-8 -184h8v8h-8zM56 -184h8v8h-8zM56 -176h8v8h-8zM-232 -168h8v8h-8zM-112 -160h8v8h-8zM16 -160h16v8h-16zM-112 -136h8v8h-8zM-128 -128h8v8h-8zM-256 -120h8v8h-8zM-136 -120h8v8h-8zM-144 -112h8v8h-8zM-160 -104h8v8h-8zM-176 -96h8v8h-8zM-264 -88h8v8h-8zM-264 -80h8v8h-8zM-264 -72h8v8h-8zM-264 -64h8v8h-8zM-264 -56h8v8h-8zM-256 -48h24v8h-24z"/>
<path fill="#ce2417" stroke="#ce2417" d="M-48 -328h8v8h-8zM152 -320h8v8h-8zM-72 -256h8v8h-8zM-80 -240h8v8h-8zM-208 -232h8v8h-8zM-80 -232h8v8h-8zM-80 -224h8v8h-8zM16 -208h8v8h-8zM-216 -200h8v8h-8zM40 -192h8v8h-8zM48 -184h8v8h-8zM-224 -176h8v8h-8zM0 -176h8v8h-8zM48 -176h8v8h-8zM40 -168h8v8h-8zM-240 -152h8v8h-8zM-112 -152h8v8h-8zM-112 -144h8v8h-8zM-248 -136h8v8h-8zM-120 -136h8v8h-8zM-256 -112h8v8h-8zM-200 -80h8v8h-8zM-208 -72h8v8h-8zM-216 -64h8v8h-8zM-256 -56h8v8h-8zM-224 -56h8v8h-8z"/>
<path fill="#ca1e14" stroke="#ca1e14" d="M-64 -304h8v8h-8zM-72 -272h8v8h-8zM-72 -264h8v8h-8zM-80 -248h8v8h-8zM-208 -240h8v8h-8zM-200 -224h8v8h-8zM-88 -216h8v8h-8zM-208 -208h8v8h-8zM0 -208h16v8h-16zM24 -200h8v8h-8zM-216 -192h8v8h-8zM32 -192h8v8h-8zM40 -184h8v8h-8zM40 -176h8v8h-8zM8 -168h8v8h-8zM32 -168h8v8h-8zM-128 -136h8v8h-8zM-136 -128h8v8h-8zM-144 -120h8v8h-8zM-152 -112h8v8h-8zM-168 -104h8v8h-8zM-192 -88h8v8h-8zM-256 -72h8v8h-8zM-256 -64h8v8h-8zM-248 -56h24v8h-24z"/>
<path fill="#c51810" stroke="#c51810" d="M-56 -320h8v8h-8zM-72 -288h8v8h-8zM-72 -280h8v8h-8zM-80 -256h8v8h-8zM-200 -232h8v8h-8zM-88 -224h8v8h-8zM-200 -216h8v8h-8zM-96 -208h8v8h-8zM-104 -200h8v8h-8zM0 -200h8v8h-8zM16 -200h8v8h-8zM-112 -192h8v8h-8zM0 -192h8v8h-8zM24 -192h8v8h-8zM-216 -184h8v8h-8zM0 -184h8v8h-8zM32 -184h8v8h-8zM-224 -168h8v8h-8zM16 -168h16v8h-16zM-232 -160h8v8h-8zM-240 -144h8v8h-8zM-120 -144h8v8h-8zM-248 -128h8v8h-8zM-256 -104h8v8h-8zM-256 -96h8v8h-8zM-184 -96h8v8h-8zM-256 -88h8v8h-8zM-256 -80h8v8h-8zM-216 -72h8v8h-8zM-248 -64h8v8h-8zM-232 -64h16v8h-16z"/>
<path fill="#c1120c" stroke="#c1120c" d="M-200 -240h8v8h-8zM-88 -232h8v8h-8zM-208 -200h8v8h-8zM8 -200h8v8h-8zM16 -192h8v8h-8zM24 -184h8v8h-8zM-216 -176h8v8h-8zM-120 -176h8v8h-8zM8 -176h8v8h-8zM32 -176h8v8h-8zM-120 -168h8v8h-8zM-160 -112h8v8h-8zM-176 -104h8v8h-8zM-200 -88h8v8h-8zM-208 -80h8v8h-8zM-248 -72h8v8h-8zM-240 -64h8v8h-8z"/>
<path fill="#bc0c08" stroke="#bc0c08" d="M-64 -320h8v8h-8zM-64 -312h8v8h-8zM-72 -296h8v8h-8zM-80 -264h8v8h-8zM-88 -248h8v8h-8zM-88 -240h8v8h-8zM-96 -216h8v8h-8zM-200 -208h8v8h-8zM8 -192h8v8h-8zM8 -184h16v8h-16zM16 -176h16v8h-16zM-120 -160h8v8h-8zM-232 -152h8v8h-8zM-120 -152h8v8h-8zM-128 -144h8v8h-8zM-240 -136h8v8h-8zM-136 -136h8v8h-8zM-144 -128h8v8h-8zM-248 -120h8v8h-8zM-152 -120h8v8h-8zM-192 -96h8v8h-8zM-248 -80h8v8h-8zM-216 -80h8v8h-8zM-240 -72h24v8h-24z"/>
<path fill="#b80604" stroke="#b80604" d="M-80 -272h8v8h-8zM-192 -248h8v8h-8zM-192 -240h8v8h-8zM-192 -232h8v8h-8zM-192 -224h8v8h-8zM-208 -192h8v8h-8zM-120 -184h8v8h-8zM-216 -168h8v8h-8zM-224 -160h8v8h-8zM-248 -112h8v8h-8zM-168 -112h8v8h-8zM-184 -104h8v8h-8zM-248 -88h8v8h-8z"/>
<path fill="#b30000" stroke="#b30000" d="M-72 -304h8v8h-8zM-80 -280h8v8h-8zM-88 -256h8v8h-8zM-184 -248h8v8h-8zM-96 -224h8v8h-8zM-192 -216h8v8h-8zM-104 -208h8v8h-8zM-208 -184h8v8h-8zM-240 -128h8v8h-8zM-160 -120h8v8h-8zM-248 -104h8v8h-8zM-248 -96h8v8h-8zM-208 -88h8v8h-8zM-240 -80h24v8h-24z"/>
<path fill="#ad0000" stroke="#ad0000" d="M-80 -288h8v8h-8zM-184 -256h8v8h-8zM-96 -240h8v8h-8zM-96 -232h8v8h-8zM-200 -200h8v8h-8zM-112 -200h8v8h-8zM-208 -176h8v8h-8zM-128 -152h8v8h-8zM-232 -144h8v8h-8zM-136 -144h8v8h-8zM-144 -136h8v8h-8zM-152 -128h8v8h-8zM-176 -112h8v8h-8zM-200 -96h8v8h-8zM-240 -88h8v8h-8zM-216 -88h8v8h-8z"/>
<path fill="#a60000" stroke="#a60000" d="M-72 -312h8v8h-8zM-88 -264h8v8h-8zM-176 -256h8v8h-8zM-96 -248h8v8h-8zM-184 -240h8v8h-8zM-184 -232h8v8h-8zM-104 -216h8v8h-8zM-192 -208h8v8h-8zM-120 -192h8v8h-8zM-208 -168h8v8h-8zM-216 -160h8v8h-8zM-128 -160h8v8h-8zM-224 -152h8v8h-8zM-240 -120h8v8h-8zM-168 -120h8v8h-8zM-184 -112h8v8h-8zM-192 -104h8v8h-8zM-232 -88h16v8h-16z"/>
<path fill="#a00000" stroke="#a00000" d="M-80 -296h8v8h-8zM-88 -272h8v8h-8zM-176 -248h8v8h-8zM-184 -224h8v8h-8zM-104 -224h8v8h-8zM-200 -192h8v8h-8zM-128 -176h8v8h-8zM-128 -168h8v8h-8zM-144 -144h8v8h-8zM-232 -136h8v8h-8zM-160 -128h8v8h-8zM-240 -96h8v8h-8zM-208 -96h8v8h-8z"/>
<path fill="#990000" stroke="#990000" d="M-88 -280h8v8h-8zM-168 -256h8v8h-8zM-96 -256h8v8h-8zM-176 -240h8v8h-8zM-104 -232h8v8h-8zM-184 -216h8v8h-8zM-112 -208h8v8h-8zM-192 -200h8v8h-8zM-200 -184h8v8h-8zM-136 -152h8v8h-8zM-224 -144h8v8h-8zM-152 -136h8v8h-8zM-232 -128h8v8h-8zM-176 -120h8v8h-8zM-240 -112h8v8h-8zM-192 -112h8v8h-8zM-240 -104h8v8h-8zM-200 -104h8v8h-8zM-216 -96h8v8h-8z"/>
<path fill="#930000" stroke="#930000" d="M-80 -312h8v8h-8zM-88 -288h8v8h-8zM-168 -264h8v8h-8zM-96 -264h8v8h-8zM-168 -248h8v8h-8zM-104 -248h8v8h-8zM-104 -240h8v8h-8zM-176 -232h8v8h-8zM-112 -216h8v8h-8zM-184 -208h8v8h-8zM-120 -200h8v8h-8zM-128 -184h8v8h-8zM-200 -176h8v8h-8zM-200 -168h8v8h-8zM-208 -160h8v8h-8zM-136 -160h8v8h-8zM-216 -152h8v8h-8zM-168 -128h8v8h-8zM-184 -120h8v8h-8zM-208 -104h8v8h-8zM-232 -96h16v8h-16z"/>
<path fill="#8c0000" stroke="#8c0000" d="M-80 -304h8v8h-8zM-160 -264h8v8h-8zM-160 -256h8v8h-8zM-104 -256h8v8h-8zM-176 -224h8v8h-8zM-112 -224h8v8h-8zM-176 -216h8v8h-8zM-128 -192h8v8h-8zM-136 -168h8v8h-8zM-144 -152h8v8h-8zM-152 -144h8v8h-8zM-224 -136h8v8h-8zM-160 -136h8v8h-8zM-176 -128h8v8h-8zM-232 -120h8v8h-8zM-192 -120h8v8h-8zM-200 -112h8v8h-8z"/>
<path fill="#860000" stroke="#860000" d="M-88 -296h8v8h-8zM-96 -272h8v8h-8zM-160 -248h8v8h-8zM-112 -248h8v8h-8zM-168 -240h8v8h-8zM-112 -240h8v8h-8zM-168 -232h8v8h-8zM-112 -232h8v8h-8zM-168 -224h8v8h-8zM-168 -216h8v8h-8zM-120 -216h8v8h-8zM-176 -208h16v8h-16zM-120 -208h8v8h-8zM-184 -200h8v8h-8zM-192 -192h8v8h-8zM-136 -176h8v8h-8zM-200 -160h8v8h-8zM-144 -160h8v8h-8zM-208 -152h8v8h-8zM-216 -144h8v8h-8zM-160 -144h8v8h-8zM-168 -136h8v8h-8zM-224 -128h8v8h-8zM-184 -128h8v8h-8zM-200 -120h8v8h-8zM-232 -112h8v8h-8zM-208 -112h8v8h-8zM-232 -104h24v8h-24z"/>
<path fill="#7f0000" stroke="#7f0000" d="M-96 -304h16v8h-16zM-112 -296h24v8h-24zM-120 -288h32v8h-32zM-136 -280h48v8h-48zM-152 -272h56v8h-56zM-152 -264h56v8h-56zM-152 -256h48v8h-48zM-152 -248h40v8h-40zM-160 -240h48v8h-48zM-160 -232h48v8h-48zM-160 -224h48v8h-48zM-160 -216h40v8h-40zM-160 -208h40v8h-40zM-176 -200h56v8h-56zM-184 -192h56v8h-56zM-192 -184h64v8h-64zM-192 -176h56v8h-56zM-192 -168h56v8h-56zM-192 -160h48v8h-48zM-200 -152h56v8h-56zM-208 -144h48v8h-48zM-216 -136h48v8h-48zM-216 -128h32v8h-32zM-224 -120h24v8h-24zM-224 -112h16v8h-16z"/>
</g>
</g>
<g fill="none" stroke="#000" stroke-width="0.9" stroke-linejoin="round">
<path d="M436.0 228.0L433.3 218.0L432.4 210.8L433.3 203.6L433.9 196.4L435.1 191.0L438.7 188.3L442.3 184.8L443.5 179.4L442.3 174.0L439.6 171.3L436.0 165.9L432.4 167.7L431.5 173.1L428.8 177.6L423.4 181.2L416.3 180.6L409.1 178.5L403.7 176.7L402.8 178.1L401.6 175.8L398.3 174.5L389.4 169.5L380.4 164.1L372.3 159.6L367.8 159.6L362.4 161.4L358.0 163.2L354.4 159.6L350.8 160.5L348.1 164.1L340.9 165.9L338.2 168.6L339.1 173.1L336.4 180.3L333.7 189.2L331.9 198.2L329.3 207.2L328.4 214.4L326.2 217.1L325.1 221.5L327.5 228.0L328.8 228.0L330.6 233.4L330.3 242.4L328.8 251.3L327.4 258.5L324.3 265.7L322.9 271.1L322.6 278.2L321.3 281.5L322.6 285.4L323.1 292.6L324.3 299.8L327.4 303.4L327.9 307.8L326.1 312.0L322.6 315.6L318.1 315.9L313.6 315.0L310.0 312.3L308.2 308.7L304.6 306.9L301.9 304.3L299.8 301.6L299.2 297.1L297.4 294.7L293.8 295.3L291.2 298.0L290.3 303.4L289.4 308.7L289.7 314.1L289.0 318.6L290.3 322.2L292.9 322.2L294.7 319.5L296.5 321.3L297.4 326.7L296.9 332.1L298.3 335.7L298.0 340.1L300.1 343.7L301.6 347.3L298.3 350.0L298.0 352.7L300.1 355.4L302.8 359.0L305.1 364.4L306.4 371.5L307.3 378.0L307.2 378.0L308.0 383.4L309.8 388.8L313.3 391.5L316.0 388.8L316.4 385.5L318.7 386.1L321.1 388.8L318.7 392.4L320.5 396.8L324.1 400.4L326.8 403.1L327.7 407.6L330.4 411.2L334.9 412.1L338.5 410.3L339.4 404.9L338.5 397.7L337.2 391.5L337.6 387.0L339.4 384.3L341.5 386.1L341.5 388.4L343.8 389.7L349.2 390.9L354.6 392.7L358.2 395.9L360.9 400.4L362.7 404.9L360.9 408.5L356.4 411.2L351.9 414.8L347.4 418.4L342.9 421.1L340.3 423.8L339.4 428.2L340.8 431.8L340.3 436.3L342.1 439.9L341.5 445.3L342.1 449.8L344.4 451.2L345.6 448.0L346.9 443.5L350.1 442.2L354.6 442.6L358.2 444.4L359.1 448.9L358.2 453.4L356.4 456.9L353.7 456.9L355.5 459.6L359.1 459.6L361.8 455.2L363.6 451.6L366.3 451.9L368.1 455.2L367.2 459.6L369.9 460.5L374.3 459.6L377.9 461.4L381.5 462.3L386.0 459.6L389.6 456.9L391.4 453.4L391.0 448.9L394.1 446.2L400.4 443.5L405.7 440.8L409.3 440.8L414.0 444.4L417.8 445.8L423.2 448.0L427.7 449.8L432.2 453.4L435.8 457.8L441.2 461.4L445.6 465.9L450.1 471.3L453.7 476.7L455.5 482.1L458.2 485.7L461.8 486.6L465.4 483.9L464.8 478.5L462.7 473.1L459.1 467.7L455.5 462.3L454.6 455.2L455.5 449.8L452.8 445.3L450.1 442.6L449.2 440.8L452.8 441.2L456.4 440.4L459.1 443.5L462.7 447.1L464.0 448.9L465.8 448.9L469.4 449.8L472.1 453.4L474.8 456.1L473.9 458.7L477.5 462.3L481.9 465.0L486.4 467.7L490.9 469.9L494.5 473.1L498.1 477.6L500.8 482.1L502.0 487.4L502.0 492.8L504.4 496.4L508.0 495.5L512.1 496.4L516.0 499.1L519.6 501.8L523.2 504.5L525.9 503.6L528.6 506.3L533.1 506.3L536.7 502.7L539.4 500.0L543.8 500.0L546.5 501.4L543.8 504.5L539.4 506.8L535.8 506.3L534.0 509.9L535.8 514.4L539.4 519.7L543.8 523.3L548.3 525.1L551.0 521.5L552.8 514.4L552.3 507.2L551.9 500.9L554.6 498.2L555.1 494.6L551.9 493.7L547.4 494.6L542.9 491.0L538.5 488.9L534.9 490.1L531.3 492.8L529.5 490.1L530.4 486.6L533.1 485.7L534.0 483.5L531.3 480.3L529.0 475.8L525.9 471.3L522.3 467.7L518.2 464.1L516.4 460.9L517.5 456.9L520.5 455.2L525.9 455.2L531.3 454.8L535.8 453.0L540.3 453.4L542.9 454.3L541.5 451.6L537.6 449.4L533.1 447.1L528.6 444.7L525.9 442.6L524.1 439.9L521.1 439.4L518.7 440.8L515.1 441.7L511.0 443.0L508.5 439.9L507.1 436.3L505.6 432.7L502.6 433.3L499.5 435.1L498.1 438.6L499.5 441.2L502.6 442.2L503.8 445.3L503.1 448.9L499.9 452.5L495.4 454.3L490.9 453.4L488.2 450.7L487.3 447.1L487.7 441.7L487.0 436.3L484.6 431.8L481.0 428.2L476.6 424.7L472.1 421.1L467.6 417.8L464.0 417.1L461.8 419.3L457.3 417.1L452.8 417.5L448.3 419.6L445.6 422.9L442.9 425.5L443.8 429.1L442.1 430.9L440.8 426.4L439.4 423.8L437.6 426.4L434.9 428.2L435.8 431.8L440.3 435.4L442.9 438.1L440.3 439.9L438.5 442.6L435.8 440.8L428.6 438.1L421.4 435.4L415.1 431.8L410.7 427.3L408.0 421.1L404.4 413.9L402.0 407.6L400.8 400.4L402.6 395.9L407.1 394.5L404.9 393.3L401.7 388.8L399.0 383.4L397.2 378.0L395.6 378.0L393.8 373.3L392.1 368.0L388.5 364.4L386.7 359.9L388.5 355.4L392.1 350.0L394.7 344.6L398.3 339.2L401.6 336.6L401.9 333.0L398.3 331.2L397.4 326.7L399.2 322.2L403.7 317.7L409.1 314.1L414.5 311.4L419.9 309.6L425.2 307.8L428.8 306.1L428.5 303.0L430.6 301.9L431.5 304.3L428.8 306.9L426.1 310.5L423.8 315.6L426.1 314.1L428.8 310.5L430.6 306.9L434.2 305.2L437.8 301.6L436.9 298.0L437.8 292.6L442.3 285.4L446.8 278.2L450.4 271.1L453.1 263.9L454.8 258.5L455.7 253.1L454.0 249.5L450.4 245.9L451.3 243.3L449.5 239.7L445.0 237.9L440.5 236.1L437.8 232.5L436.0 228.0Z"/>
<path d="M418.1 104.9L421.7 103.5L424.3 104.6L423.8 107.6L421.3 108.1L419.0 106.7Z"/>
<path d="M385.8 114.8L390.3 113.5L394.7 113.9L396.5 118.4L395.6 121.4L392.1 121.1L388.5 118.9Z"/>
<path d="M376.8 127.3L378.6 130.9L379.5 135.4L377.7 136.3L375.9 132.7L375.5 129.1Z"/>
<path d="M380.4 145.3L385.8 143.5L392.1 144.0L392.1 145.8L386.7 147.1L381.3 147.1Z"/>
<path d="M419.9 137.2L422.6 138.1L423.4 140.8L419.9 144.4L417.2 148.0L414.8 148.0L414.8 144.4L417.2 139.9Z"/>
<path d="M300.1 297.1L302.8 297.1L304.6 299.8L303.7 303.0L301.0 302.5L299.2 299.8Z"/>
<path d="M322.3 471.3L324.1 467.7L328.6 466.3L335.8 466.8L342.9 467.7L350.1 469.5L357.3 467.7L362.3 466.3L364.5 470.4L369.0 472.2L371.7 474.9L374.3 471.3L378.8 475.8L383.3 480.3L387.8 484.8L390.5 488.3L395.9 490.1L397.7 491.9L395.0 494.6L393.5 500.0L393.2 507.2L394.1 514.4L395.9 521.5L394.1 528.0L390.9 528.0L390.0 530.7L388.2 534.3L387.3 537.0L384.6 538.8L381.9 540.6L379.3 543.3L376.6 545.0L373.9 543.3L372.1 540.6L370.3 537.9L367.6 536.1L364.0 533.4L359.1 528.0L358.2 523.3L355.5 517.1L351.9 512.6L351.0 503.6L348.3 496.4L344.7 490.1L341.2 485.7L336.7 483.9L334.0 480.3L333.1 474.9L329.5 472.2L326.8 474.0L324.1 474.9L322.3 471.3Z"/>
<path d="M366.7 543.3L369.4 541.5L371.5 545.0L370.3 548.1L367.6 546.8Z"/>
<path d="M308.9 447.1L311.5 445.8L316.0 448.0L319.6 450.7L321.1 454.3L320.0 456.9L316.9 454.3L312.4 451.9L309.2 449.8Z"/>
<path d="M415.1 465.0L417.8 464.1L420.5 465.9L424.1 464.5L425.9 467.7L430.4 469.5L431.8 473.1L430.4 477.6L426.8 481.2L424.1 485.7L421.4 483.9L416.9 481.2L413.9 476.7L412.8 471.3L413.9 467.7Z"/>
<path d="M420.0 425.0L422.3 424.3L426.8 428.2L432.2 432.7L435.8 436.3L434.9 438.1L430.4 435.4L425.0 430.9L420.5 427.3Z"/>
<path d="M413.3 378.0L415.1 382.5L417.8 387.0L420.5 392.4L422.3 395.9L425.0 394.1L425.9 388.8L425.0 383.4L424.1 378.0L424.3 378.0L423.4 376.0L419.9 374.2L414.5 375.5L413.6 378.0Z"/>
<path d="M431.3 387.9L434.9 387.0L438.5 389.7L439.4 392.0L435.8 391.5L432.2 389.7Z"/>
<path d="M443.8 395.0L447.4 394.1L449.8 395.0L447.4 396.8L444.4 396.8Z"/>
<path d="M482.4 490.1L485.1 489.2L488.7 492.8L493.2 500.0L497.7 504.5L502.2 510.8L505.7 515.3L504.8 516.5L501.3 513.5L496.8 507.2L491.4 503.6L486.9 498.2L483.3 493.7Z"/>
<path d="M551.9 431.8L554.6 430.9L557.3 432.7L560.0 436.3L561.8 440.8L564.5 443.5L568.1 444.7L569.5 448.9L568.1 453.4L567.2 458.7L564.5 462.3L560.9 462.0L557.3 465.9L553.7 464.1L550.1 461.4L546.5 458.7L548.3 456.1L551.0 453.4L551.6 448.0L552.3 442.6L551.6 437.2Z"/>
<path d="M531.3 474.0L534.9 475.8L537.6 479.4L535.8 483.0L533.1 478.5Z"/>
<path d="M539.4 481.2L543.8 480.6L548.3 481.7L550.1 483.5L546.5 483.9L542.1 483.5Z"/>
<path d="M548.3 485.3L552.8 483.9L556.4 485.3L555.9 487.4L551.9 487.4Z"/>
<path d="M520.9 441.2L522.3 439.7L523.7 441.2L522.3 442.6Z"/>
<path d="M296.5 539.1L299.2 538.4L301.0 541.5L305.5 543.3L309.1 545.9L312.7 547.7L316.3 548.6L317.7 545.0L319.5 546.8L319.9 550.4L323.4 552.2L325.6 555.8L323.4 558.1L319.9 557.6L316.3 556.7L312.3 557.6L310.9 560.3L307.3 558.5L303.7 556.7L301.0 553.1L298.3 549.5L295.6 546.8L296.2 543.3Z"/>
<path d="M316.6 560.7L321.3 560.3L321.7 563.0L320.2 568.4L318.4 565.7Z"/>
<path d="M295.6 561.2L298.3 559.4L301.0 562.1L304.6 563.0L307.3 564.8L308.7 566.6L306.4 568.4L307.3 572.0L305.5 575.0L303.7 577.3L301.6 576.8L301.9 573.8L299.8 571.1L298.3 567.5L296.2 564.8Z"/>
<path d="M288.5 589.9L291.2 588.1L293.8 587.2L296.5 588.1L295.6 591.7L293.8 594.4L291.5 592.6L289.4 592.2Z"/>
<path d="M224.8 678.0L227.5 675.1L230.1 671.5L229.3 669.7L231.9 668.8L233.7 666.2L236.4 667.1L238.2 664.4L240.9 665.3L242.7 661.7L240.9 659.9L243.6 658.1L244.5 655.4L247.2 656.3L249.0 653.6L248.1 650.9L250.8 650.0L252.6 652.7L254.4 650.0L257.1 648.2L259.8 645.5L261.5 642.8L262.8 639.2L263.3 635.7L261.0 631.2L258.9 627.6L258.0 623.1L260.3 621.3L262.4 624.9L265.1 628.5L268.7 632.1L271.4 633.9L271.1 630.3L267.8 626.7L265.1 623.1L263.3 619.5L264.2 615.9L266.9 614.1L268.7 610.5L268.2 606.9L270.0 603.4L271.1 598.9L272.9 594.4L274.1 592.6L275.4 596.2L276.8 599.8L275.9 604.3L276.8 608.7L275.0 612.3L274.6 617.7L275.9 623.1L277.7 627.6L280.4 632.1L281.3 637.4L284.0 640.1L284.9 643.7L287.6 646.4L285.8 649.1L282.2 651.8L277.7 654.5L273.2 655.8L268.7 657.2L265.1 659.9L261.5 663.5L258.9 668.0L257.1 673.3L252.6 676.0L248.1 678.0L248.1 682.3L224.8 682.3Z"/>
<path d="M278.2 606.9L280.7 606.1L281.8 608.4L279.5 609.6Z"/>
<path d="M278.6 614.1L281.3 613.2L283.1 615.9L281.3 617.7L279.0 616.8Z"/>
<path d="M289.4 645.5L292.9 641.0L296.5 639.2L301.0 640.7L304.6 643.7L302.8 647.3L298.3 649.7L294.7 650.9L291.2 650.9Z"/>
<path d="M385.5 551.3L387.3 551.0L389.1 554.9L388.2 557.6L385.9 556.7Z"/>
<path d="M389.1 566.6L392.7 565.7L395.4 566.6L393.6 568.4L390.0 568.4Z"/>
<path d="M365.8 625.8L368.5 623.5L369.7 625.8L367.9 628.8L365.8 628.5Z"/>
<path d="M424.1 528.0L425.0 521.5L429.5 519.7L433.1 518.8L432.2 521.5L430.4 524.2L430.7 528.0L430.0 531.6L429.0 536.1L427.7 540.6L426.8 545.0L425.9 548.6L424.1 551.3L421.8 546.8L422.9 544.1L421.1 541.5L420.0 537.0L421.4 532.5L423.2 528.0Z"/>
<path d="M439.4 528.0L440.3 521.5L441.5 521.5L442.6 528.0L442.2 529.8L440.8 530.2Z"/>
<path d="M449.8 531.6L451.9 529.4L455.5 527.3L460.9 527.3L464.5 530.7L465.9 535.2L464.5 538.8L461.8 540.9L458.2 539.7L455.5 537.0L452.8 535.2L450.5 534.3Z"/>
<path d="M369.7 464.7L369.5 465.4L368.9 465.8L368.1 465.8L367.5 465.4L367.3 464.7L367.5 464.0L368.1 463.6L368.9 463.6L369.5 464.0Z"/>
<path d="M407.7 502.2L407.5 502.9L406.9 503.3L406.1 503.3L405.5 502.9L405.3 502.2L405.5 501.5L406.1 501.1L406.9 501.1L407.5 501.5Z"/>
<path d="M416.0 570.2L417.8 564.8L421.4 562.4L425.9 563.5L430.4 566.6L435.8 568.9L441.2 572.0L445.6 575.5L450.1 579.1L455.5 582.7L460.0 585.4L461.8 587.2L463.6 584.5L466.3 581.8L471.7 581.5L475.2 582.7L477.9 586.3L480.6 588.1L477.9 590.8L481.5 589.9L486.0 587.2L490.5 585.1L493.5 583.3L494.6 587.2L493.5 592.6L492.3 598.0L491.8 603.4L492.3 606.1L488.7 607.8L486.0 611.4L482.4 613.2L480.6 615.6L477.0 616.8L473.8 619.5L471.7 623.1L471.3 627.6L469.0 630.3L464.5 631.7L460.9 633.9L457.3 636.6L451.9 637.1L446.5 637.8L441.2 639.2L435.8 641.0L431.3 643.7L427.7 647.3L425.0 651.4L421.8 652.2L420.0 649.1L420.5 644.6L422.9 640.1L422.3 635.7L423.2 630.3L425.0 624.9L426.4 619.5L427.2 614.1L427.7 606.9L428.6 599.8L430.0 592.6L430.7 585.4L430.4 578.2L429.0 574.3L425.0 572.9L420.5 572.0Z"/>
<path d="M460.9 633.9L464.5 632.1L467.7 635.7L468.1 641.0L466.3 646.4L462.7 650.9L458.7 652.7L455.5 651.8L453.7 648.2L455.9 644.6L457.3 640.1L458.2 636.6Z"/>
<path d="M466.3 678.0L469.9 676.0L474.3 672.4L475.6 667.1L476.1 660.8L475.2 655.4L472.6 650.9L474.3 646.4L478.8 642.8L480.6 637.4L482.4 632.1L481.5 626.7L485.1 623.1L489.6 620.4L495.0 618.6L500.4 619.5L505.7 620.4L509.3 622.2L514.0 621.3L516.7 625.8L518.5 631.2L516.7 637.4L514.9 642.8L514.0 642.8L510.2 648.2L506.6 653.6L504.0 660.8L503.1 668.0L500.4 673.3L498.6 678.0L498.6 682.3L466.3 682.3Z"/>
<path d="M498.4 522.4L500.7 522.9L503.1 523.4L504.6 524.4L505.8 525.8L505.2 527.7L506.5 528.7L505.5 530.6L504.1 531.1L504.6 529.1L506.0 527.2L507.9 526.3L510.3 527.2L512.7 529.1L515.1 530.6L517.5 532.0L519.4 533.9L520.2 536.0L521.3 535.1L522.8 536.8L525.1 538.2L527.1 540.6L529.0 543.0L530.4 544.9L531.4 546.4L531.8 543.5L533.8 544.9L536.2 546.4L537.6 545.4L539.0 547.8L540.9 550.7L542.9 553.5L544.8 556.9L546.7 559.8L547.6 563.6L548.3 567.4L548.9 571.2L548.3 574.1L547.0 573.6L546.7 571.2L544.8 569.8L542.4 567.9L540.0 566.0L537.1 564.1L534.2 562.6L531.4 562.2L529.0 561.7L527.5 559.8L528.5 558.3L527.1 556.9L525.1 555.5L523.7 553.5L522.3 552.6L520.8 550.2L518.9 548.3L517.0 546.4L514.6 544.9L512.2 544.6L509.8 545.6L507.9 547.8L506.5 550.2L504.6 552.6L502.2 555.0L499.8 557.4L497.4 559.8L495.0 562.2L493.4 562.6L493.1 560.2L494.5 557.8L496.0 555.0L497.4 552.1L498.8 549.7L500.7 547.8L501.2 545.9L499.8 544.9L501.0 543.5L499.3 543.0L497.4 542.5L498.4 540.1L499.3 537.8L499.8 534.9L500.5 532.0L499.8 529.6L498.8 527.2L498.4 524.8Z"/>
<path d="M519.4 518.6L520.8 516.7L523.2 517.7L525.6 519.6L528.0 522.0L529.0 525.3L529.9 528.7L530.9 532.0L531.7 535.4L530.9 537.3L529.0 534.4L527.1 531.5L525.1 528.7L523.2 525.8L521.3 522.9L519.9 521.0Z"/>
<path d="M552.4 530.1L554.3 530.6L555.3 533.0L554.3 533.9L552.7 532.5Z"/>
<path d="M553.4 554.0L555.8 553.1L557.7 553.5L556.7 555.0L554.3 555.7Z"/>
<path d="M560.9 528.0L561.8 523.7L566.3 523.0L571.7 524.2L578.8 525.5L586.0 526.6L593.2 526.0L597.7 523.3L600.4 524.2L605.7 525.5L609.3 523.3L614.0 524.2L617.2 524.4L619.9 528.0L622.6 531.6L623.4 536.1L626.1 539.7L630.6 541.5L634.2 544.1L636.9 546.8L634.2 549.5L633.3 554.0L632.4 559.4L631.5 563.9L632.4 569.3L631.5 572.9L632.8 578.2L634.2 583.6L636.0 589.0L638.7 592.6L641.4 596.2L642.3 599.8L639.6 603.4L637.8 606.1L641.4 604.8L645.0 606.9L647.7 610.5L650.0 614.1L648.9 616.3L646.4 614.1L644.1 610.5L640.5 608.7L637.8 611.4L635.1 612.3L631.5 610.9L627.9 612.3L623.4 611.4L619.9 610.5L617.2 611.4L616.3 606.9L613.6 604.3L610.0 602.5L606.4 601.6L603.7 599.8L602.8 596.2L601.0 592.6L598.3 589.9L595.6 588.1L594.7 585.4L592.9 581.8L590.3 579.1L587.9 576.4L588.5 575.0L591.2 576.4L593.8 580.0L596.5 583.6L600.1 581.8L603.7 579.1L606.4 576.4L607.7 572.9L605.5 571.4L601.9 572.5L599.2 571.1L596.5 568.4L593.8 564.8L590.3 562.1L587.6 559.4L584.9 556.7L581.3 554.9L577.7 553.1L574.1 550.4L571.1 546.8L568.7 543.3L566.9 538.8L565.1 534.3L563.3 530.7L561.5 528.0Z"/>
<path d="M562.4 585.4L565.1 585.1L567.8 588.1L571.4 591.7L575.0 594.4L577.7 597.1L581.3 598.3L585.8 598.9L589.4 597.1L592.1 594.4L594.7 592.6L598.3 592.2L601.0 595.3L602.3 599.8L604.6 602.5L606.4 605.2L607.3 612.3L606.9 619.5L605.1 625.8L605.5 631.2L608.2 634.8L611.8 637.4L614.5 641.9L616.3 647.3L618.1 651.8L620.8 655.4L621.3 660.8L619.0 663.5L616.3 662.6L613.6 664.4L611.8 667.1L609.1 664.4L607.3 659.9L605.9 656.3L603.7 656.3L603.4 660.8L604.6 666.2L605.9 671.5L604.6 676.0L600.1 674.2L596.5 671.5L592.9 669.7L590.8 666.2L591.5 661.7L589.4 657.2L588.5 651.8L589.0 646.4L591.2 641.0L592.6 635.7L592.1 630.3L589.4 625.8L586.7 621.3L583.1 618.6L579.5 618.6L576.8 621.3L574.1 624.9L571.1 623.1L568.7 620.4L567.8 615.9L568.7 611.4L567.8 606.9L568.7 602.5L566.9 598.0L565.1 593.5L562.8 589.0Z"/>
<path d="M566.0 577.3L570.5 576.4L575.9 577.3L579.5 580.9L581.3 585.4L579.5 588.6L575.0 589.0L571.4 586.3L568.7 582.7L566.4 580.0Z"/>
<path d="M514.0 682.3L514.0 678.0L516.7 671.5L520.3 664.4L523.9 657.2L527.5 650.0L530.1 642.8L532.8 635.7L536.4 628.5L539.1 621.3L540.9 614.1L542.7 608.7L544.5 604.3L547.2 601.6L548.4 604.3L547.2 609.6L545.9 614.1L547.7 619.5L548.1 625.8L546.7 632.1L546.3 638.3L547.2 644.6L546.3 651.8L544.5 656.3L540.9 660.8L536.4 664.4L531.9 668.0L528.4 671.5L525.7 678.0L525.7 682.3Z"/>
<path d="M526.6 601.6L529.3 600.1L531.6 603.4L532.8 607.8L531.0 609.6L528.0 607.8Z"/>
<path d="M561.5 640.1L564.2 636.6L567.5 635.3L568.7 638.3L566.9 641.4L563.3 642.8Z"/>
<path d="M568.7 636.6L572.3 635.3L575.4 636.6L575.0 639.6L571.4 640.7L569.3 639.2Z"/>
<path d="M548.1 682.3L548.1 678.0L549.9 674.2L553.5 670.6L558.9 668.8L564.2 668.3L567.8 670.6L571.4 673.3L575.9 672.4L579.5 670.6L580.7 673.3L578.6 676.0L576.8 678.0L576.8 682.3Z"/>
<path d="M540.9 659.9L544.5 658.1L546.7 659.9L543.6 662.9L540.6 662.6Z"/>
<path d="M645.9 630.3L648.2 629.4L650.4 632.1L653.1 633.9L654.0 636.0L651.3 636.6L647.7 634.8L645.9 632.4Z"/>
<path d="M639.7 680.0L639.7 677.4L641.2 675.0L638.0 674.0L635.4 673.8L634.0 669.5L636.2 665.2L635.4 659.5L638.3 655.9L640.0 652.0L643.0 650.2L645.5 652.3L644.8 658.8L642.6 663.1L645.5 667.4L646.6 673.1L645.5 677.8L645.5 680.0Z"/>
<path d="M611.8 669.7L614.5 668.0L618.1 671.5L619.9 676.0L618.1 679.6L614.5 678.7L611.8 673.3Z"/>
</g>
<g stroke="#000" stroke-width="1.39" stroke-dasharray="1.39 2.29" fill="none" opacity="0.5">
<line x1="64.5" y1="318.3" x2="664.5" y2="318.3"/>
<line x1="424.6" y1="78.5" x2="424.6" y2="678.5"/>
</g>
<g fill="#000" stroke="none">
<path d="M64.6 108.7L66.8 103.7L65.4 103.7L69.7 98.7L68.9 105.3L68.0 104.2L65.7 109.3Z"/>
<path d="M77.6 132.5L78.9 128.1L77.5 128.3L81.2 122.8L81.2 129.5L80.2 128.5L78.9 132.8Z"/>
<path d="M97.8 142.6L98.5 140.3L97.1 140.5L100.7 134.9L100.8 141.6L99.7 140.7L99.1 142.9Z"/>
<path d="M168.0 83.3L169.4 81.8L168.0 81.4L173.8 78.0L170.9 84.0L170.3 82.7L169.0 84.2Z"/>
<path d="M148.8 160.7L148.8 159.1L147.5 159.7L149.4 153.3L151.4 159.7L150.1 159.1L150.1 160.7Z"/>
<path d="M166.2 175.7L166.1 175.0L164.9 175.8L165.5 169.2L168.7 175.0L167.3 174.7L167.5 175.5Z"/>
<path d="M201.1 161.2L201.1 160.6L199.9 161.3L201.3 154.9L203.7 161.0L202.4 160.5L202.4 161.1Z"/>
<path d="M136.4 193.4L136.3 192.9L135.3 193.7L135.6 187.5L138.8 192.9L137.5 192.6L137.6 193.1Z"/>
<path d="M260.9 97.3L261.4 95.9L260.0 96.0L264.0 90.6L263.6 97.3L262.6 96.3L262.1 97.7Z"/>
<path d="M275.3 98.0L275.8 96.6L274.4 96.8L278.2 91.3L278.1 98.0L277.0 97.0L276.6 98.4Z"/>
<path d="M265.2 132.5L265.4 131.7L264.0 132.0L267.4 126.2L267.8 132.9L266.7 132.0L266.5 132.8Z"/>
<path d="M366.8 84.1L367.1 83.7L365.7 83.6L370.1 79.1L368.9 85.3L368.1 84.2L367.9 84.7Z"/>
<path d="M340.3 114.2L340.4 113.7L339.2 114.1L341.4 108.5L342.7 114.4L341.5 113.8L341.5 114.3Z"/>
<path d="M364.5 119.7L364.6 119.2L363.5 119.6L365.7 114.7L366.6 120.0L365.6 119.4L365.5 119.9Z"/>
<path d="M438.5 122.0L438.5 121.5L437.4 121.9L439.7 117.0L440.5 122.3L439.5 121.7L439.5 122.2Z"/>
<path d="M305.8 179.1L305.8 178.4L304.5 179.1L306.0 172.6L308.4 178.8L307.1 178.3L307.1 179.0Z"/>
<path d="M436.0 164.8L436.0 164.2L434.7 164.8L436.7 158.4L438.6 164.8L437.3 164.2L437.3 164.8Z"/>
<path d="M452.2 165.8L452.1 165.2L451.1 165.9L452.3 160.2L454.4 165.6L453.3 165.2L453.3 165.7Z"/>
<path d="M367.9 211.4L367.1 208.9L366.1 209.8L366.2 203.1L369.8 208.8L368.4 208.5L369.1 211.0Z"/>
<path d="M330.5 226.4L329.9 225.4L329.0 226.5L327.8 219.9L332.5 224.7L331.1 224.8L331.6 225.8Z"/>
<path d="M266.2 201.1L265.9 200.6L265.0 201.7L264.0 195.1L268.5 200.0L267.1 200.0L267.3 200.6Z"/>
<path d="M492.2 93.8L492.5 93.3L491.2 93.2L495.7 89.0L494.2 95.0L493.5 93.9L493.2 94.4Z"/>
<path d="M534.3 84.6L534.5 84.2L533.3 84.0L537.5 80.3L536.1 85.7L535.4 84.7L535.2 85.2Z"/>
<path d="M541.7 114.6L541.8 114.2L540.8 114.4L543.2 110.6L543.3 115.1L542.6 114.5L542.5 114.9Z"/>
<path d="M535.2 124.3L535.3 124.0L534.5 124.2L536.1 120.5L536.8 124.5L536.1 124.1L536.0 124.4Z"/>
<path d="M612.4 134.9L612.4 134.5L611.5 134.8L613.3 130.8L614.1 135.1L613.3 134.6L613.2 135.0Z"/>
<path d="M635.8 141.8L635.9 141.4L635.1 141.7L636.7 138.2L637.3 142.0L636.6 141.5L636.6 141.9Z"/>
<path d="M598.5 184.9L598.4 184.4L597.4 185.1L597.9 179.5L600.6 184.4L599.4 184.2L599.6 184.7Z"/>
<path d="M574.7 207.9L574.6 207.3L573.5 208.2L573.5 201.5L577.2 207.1L575.8 206.9L576.0 207.6Z"/>
<path d="M113.6 232.6L113.2 232.1L112.7 233.4L109.9 227.5L115.5 230.9L114.1 231.3L114.5 231.7Z"/>
<path d="M68.3 253.7L67.9 253.5L67.8 254.7L64.0 250.5L69.4 251.9L68.4 252.5L68.9 252.8Z"/>
<path d="M233.8 241.7L231.8 238.3L231.0 239.5L229.3 233.1L234.3 237.5L232.9 237.7L234.9 241.0Z"/>
<path d="M138.1 280.8L134.7 277.0L134.2 278.4L131.3 272.3L137.0 275.7L135.7 276.2L139.1 279.9Z"/>
<path d="M210.0 280.1L206.3 275.9L205.7 277.2L202.9 271.2L208.6 274.6L207.3 275.1L211.0 279.2Z"/>
<path d="M210.5 291.6L206.1 287.2L205.6 288.6L202.5 282.6L208.4 285.8L207.0 286.3L211.4 290.7Z"/>
<path d="M94.6 297.9L90.6 294.6L90.2 296.0L86.5 290.5L92.7 293.0L91.4 293.6L95.4 296.8Z"/>
<path d="M164.6 300.3L160.1 296.1L159.6 297.4L156.3 291.6L162.3 294.6L161.0 295.1L165.5 299.4Z"/>
<path d="M173.4 329.5L167.6 325.1L167.3 326.5L163.4 321.0L169.7 323.4L168.4 324.0L174.2 328.5Z"/>
<path d="M222.1 361.0L214.4 356.1L214.2 357.5L209.8 352.5L216.3 354.2L215.1 355.0L222.8 359.9Z"/>
<path d="M179.6 375.5L171.6 371.0L171.5 372.4L166.9 367.6L173.4 369.0L172.2 369.9L180.3 374.4Z"/>
<path d="M306.6 253.6L304.7 250.0L303.8 251.1L302.6 244.5L307.3 249.3L305.9 249.4L307.7 253.0Z"/>
<path d="M377.1 258.2L374.8 254.9L374.1 256.2L371.9 249.8L377.2 253.9L375.8 254.2L378.2 257.5Z"/>
<path d="M417.8 248.6L413.6 243.3L412.9 244.6L410.5 238.3L416.0 242.1L414.6 242.5L418.8 247.8Z"/>
<path d="M380.2 277.8L374.9 272.2L374.4 273.5L371.5 267.5L377.2 270.9L375.9 271.3L381.1 276.9Z"/>
<path d="M288.8 294.6L283.9 289.0L283.3 290.3L280.5 284.3L286.2 287.8L284.9 288.2L289.7 293.7Z"/>
<path d="M393.8 299.0L387.6 294.1L387.2 295.5L383.4 290.0L389.6 292.4L388.4 293.1L394.6 298.0Z"/>
<path d="M414.1 309.4L408.9 306.6L408.8 308.0L404.1 303.3L410.6 304.6L409.5 305.5L414.7 308.3Z"/>
<path d="M303.8 313.0L300.1 309.9L299.7 311.3L296.1 305.6L302.3 308.3L301.0 308.9L304.6 312.0Z"/>
<path d="M277.9 331.9L271.6 328.5L271.5 329.9L266.8 325.1L273.3 326.5L272.2 327.3L278.5 330.8Z"/>
<path d="M384.7 344.1L376.8 340.2L376.8 341.6L371.9 337.1L378.5 338.1L377.4 339.0L385.3 342.9Z"/>
<path d="M292.4 364.0L283.7 359.3L283.6 360.7L278.9 355.9L285.5 357.3L284.3 358.1L293.0 362.9Z"/>
<path d="M451.5 365.7L445.7 362.7L445.7 364.2L440.8 359.6L447.4 360.7L446.3 361.6L452.1 364.5Z"/>
<path d="M517.4 233.3L516.9 232.4L516.0 233.5L515.0 226.9L519.5 231.8L518.1 231.8L518.5 232.8Z"/>
<path d="M490.6 250.9L488.6 248.1L487.9 249.3L485.8 242.9L491.1 247.1L489.7 247.3L491.6 250.1Z"/>
<path d="M610.5 260.1L608.2 257.8L607.7 259.2L604.5 253.3L610.4 256.4L609.1 256.9L611.4 259.2Z"/>
<path d="M661.0 256.5L659.2 254.5L658.7 255.8L655.7 249.8L661.5 253.2L660.2 253.6L662.0 255.6Z"/>
<path d="M574.9 272.1L571.8 269.4L571.4 270.8L567.8 265.2L573.9 267.9L572.6 268.5L575.8 271.1Z"/>
<path d="M493.9 288.7L489.4 285.3L489.1 286.7L485.1 281.3L491.4 283.6L490.2 284.2L494.7 287.6Z"/>
<path d="M577.4 309.4L572.7 307.0L572.6 308.4L567.8 303.8L574.4 305.0L573.2 305.8L578.0 308.2Z"/>
<path d="M484.3 315.4L478.5 311.9L478.4 313.3L473.9 308.4L480.4 310.0L479.2 310.8L485.0 314.2Z"/>
<path d="M536.7 318.8L531.2 315.8L531.1 317.3L526.5 312.5L533.0 313.8L531.9 314.7L537.3 317.7Z"/>
<path d="M614.2 354.4L608.0 351.9L608.1 353.3L602.9 349.0L609.6 349.7L608.5 350.7L614.7 353.2Z"/>
<path d="M607.7 364.5L600.5 361.6L600.6 363.1L595.3 358.9L602.0 359.5L601.0 360.4L608.2 363.3Z"/>
<path d="M491.3 375.6L484.7 372.8L484.7 374.2L479.6 369.9L486.3 370.6L485.2 371.6L491.8 374.4Z"/>
<path d="M91.3 381.3L83.3 377.8L83.3 379.2L78.2 374.8L84.9 375.6L83.8 376.6L91.8 380.2Z"/>
<path d="M125.7 379.7L118.5 376.7L118.5 378.1L113.4 373.9L120.0 374.5L119.0 375.5L126.2 378.5Z"/>
<path d="M99.3 392.4L90.2 388.5L90.2 389.9L85.1 385.6L91.8 386.3L90.7 387.3L99.8 391.2Z"/>
<path d="M196.9 390.5L188.4 386.7L188.4 388.1L183.4 383.7L190.0 384.6L189.0 385.5L197.4 389.3Z"/>
<path d="M145.3 421.5L135.3 417.5L135.3 418.9L130.1 414.7L136.8 415.3L135.8 416.3L145.8 420.3Z"/>
<path d="M254.4 437.2L243.7 433.0L243.8 434.5L238.5 430.4L245.2 430.8L244.2 431.8L254.8 435.9Z"/>
<path d="M68.9 445.7L60.1 442.9L60.3 444.3L54.8 440.5L61.5 440.6L60.5 441.6L69.3 444.4Z"/>
<path d="M236.5 466.3L225.0 462.4L225.1 463.9L219.7 460.0L226.4 460.2L225.4 461.2L236.9 465.1Z"/>
<path d="M112.0 490.4L100.4 487.0L100.6 488.4L95.0 484.8L101.7 484.7L100.7 485.8L112.4 489.2Z"/>
<path d="M154.5 517.5L141.7 513.5L141.9 515.0L136.3 511.2L143.0 511.2L142.1 512.3L154.9 516.3Z"/>
<path d="M378.5 383.6L370.1 379.8L370.1 381.3L365.0 376.9L371.7 377.7L370.6 378.6L379.1 382.5Z"/>
<path d="M428.0 402.0L420.8 399.4L420.9 400.8L415.5 396.8L422.2 397.2L421.2 398.2L428.4 400.8Z"/>
<path d="M282.6 433.7L270.9 428.7L270.9 430.1L265.8 425.8L272.5 426.5L271.4 427.5L283.1 432.5Z"/>
<path d="M311.5 429.8L300.9 426.0L301.1 427.5L295.7 423.5L302.4 423.8L301.4 424.8L312.0 428.6Z"/>
<path d="M352.2 437.2L343.4 434.8L343.6 436.2L337.9 432.6L344.6 432.4L343.7 433.5L352.6 435.9Z"/>
<path d="M431.4 442.5L420.9 439.5L421.2 440.9L415.5 437.2L422.2 437.1L421.3 438.2L431.8 441.2Z"/>
<path d="M341.5 486.6L329.7 484.2L330.1 485.6L324.2 482.5L330.8 481.8L330.0 483.0L341.7 485.3Z"/>
<path d="M415.4 493.9L404.0 492.1L404.3 493.5L398.3 490.5L405.0 489.6L404.2 490.8L415.7 492.6Z"/>
<path d="M420.1 527.4L407.4 525.9L407.9 527.2L401.8 524.5L408.4 523.4L407.6 524.6L420.2 526.1Z"/>
<path d="M546.5 416.1L536.4 413.1L536.6 414.5L531.0 410.8L537.7 410.8L536.8 411.8L546.8 414.8Z"/>
<path d="M571.8 429.6L558.6 426.6L558.9 428.0L553.1 424.6L559.8 424.2L558.9 425.3L572.1 428.3Z"/>
<path d="M568.3 434.9L554.9 431.7L555.2 433.1L549.4 429.7L556.1 429.3L555.2 430.4L568.6 433.6Z"/>
<path d="M470.3 431.4L461.8 429.1L462.1 430.5L456.4 426.9L463.1 426.7L462.2 427.8L470.6 430.2Z"/>
<path d="M522.4 452.1L510.8 449.5L511.1 450.9L505.3 447.6L512.0 447.1L511.1 448.2L522.7 450.8Z"/>
<path d="M474.9 465.4L463.9 463.5L464.2 464.9L458.3 461.8L464.9 461.0L464.1 462.2L475.1 464.2Z"/>
<path d="M482.8 493.5L469.7 491.9L470.1 493.2L464.0 490.5L470.6 489.4L469.8 490.6L482.9 492.2Z"/>
<path d="M533.9 496.4L518.3 493.4L518.6 494.8L512.7 491.7L519.3 491.0L518.5 492.1L534.2 495.2Z"/>
<path d="M606.2 510.7L590.0 506.7L590.3 508.2L584.6 504.8L591.2 504.4L590.3 505.5L606.5 509.4Z"/>
<path d="M494.4 517.6L479.3 515.1L479.6 516.4L473.6 513.5L480.3 512.6L479.5 513.8L494.6 516.3Z"/>
<path d="M678.5 516.9L661.8 511.9L662.0 513.3L656.4 509.6L663.1 509.5L662.2 510.6L678.9 515.6Z"/>
<path d="M113.2 529.8L100.4 526.1L100.6 527.5L95.0 523.9L101.7 523.8L100.8 524.8L113.5 528.5Z"/>
<path d="M206.2 535.5L192.2 531.1L192.4 532.5L186.8 528.7L193.5 528.8L192.6 529.8L206.6 534.3Z"/>
<path d="M239.5 534.4L226.6 530.4L226.8 531.8L221.3 528.0L228.0 528.0L227.0 529.1L239.9 533.1Z"/>
<path d="M112.5 564.2L96.6 560.5L96.9 561.9L91.1 558.5L97.8 558.1L96.9 559.2L112.8 563.0Z"/>
<path d="M179.8 560.8L164.0 556.2L164.2 557.6L158.6 553.9L165.3 553.9L164.4 554.9L180.1 559.5Z"/>
<path d="M202.7 565.4L186.4 560.2L186.6 561.6L181.1 557.9L187.8 557.9L186.8 559.0L203.1 564.1Z"/>
<path d="M78.8 603.3L63.9 600.8L64.3 602.2L58.3 599.2L64.9 598.3L64.1 599.5L79.0 602.0Z"/>
<path d="M197.8 604.4L182.1 601.6L182.5 602.9L176.5 599.9L183.2 599.1L182.3 600.3L198.0 603.1Z"/>
<path d="M168.8 622.1L153.4 619.6L153.8 621.0L147.8 618.0L154.4 617.1L153.6 618.3L169.0 620.8Z"/>
<path d="M134.7 636.6L119.8 634.9L120.2 636.3L114.1 633.6L120.6 632.4L119.9 633.6L134.8 635.3Z"/>
<path d="M220.0 640.5L204.2 636.4L204.5 637.8L198.8 634.3L205.5 634.0L204.6 635.1L220.3 639.2Z"/>
<path d="M213.8 650.3L198.1 647.0L198.4 648.4L192.6 645.1L199.3 644.5L198.4 645.7L214.1 649.1Z"/>
<path d="M137.8 673.8L123.6 671.3L123.9 672.7L118.0 669.7L124.6 668.8L123.8 670.0L138.0 672.5Z"/>
<path d="M272.5 648.0L256.5 643.4L256.8 644.8L251.1 641.2L257.8 641.1L256.9 642.2L272.9 646.8Z"/>
<path d="M288.7 551.6L273.7 548.3L274.0 549.7L268.1 546.4L274.8 545.9L273.9 547.0L288.9 550.3Z"/>
<path d="M359.2 552.1L346.1 549.8L346.4 551.2L340.5 548.2L347.1 547.4L346.3 548.5L359.4 550.8Z"/>
<path d="M313.9 571.6L298.9 568.4L299.3 569.8L293.4 566.6L300.1 566.0L299.2 567.1L314.2 570.3Z"/>
<path d="M373.7 570.7L361.5 568.9L361.9 570.3L355.8 567.5L362.5 566.5L361.7 567.7L373.8 569.4Z"/>
<path d="M413.2 579.6L399.8 577.7L400.3 579.1L394.2 576.2L400.8 575.2L400.0 576.4L413.3 578.3Z"/>
<path d="M284.5 588.3L269.5 584.7L269.8 586.1L264.0 582.6L270.7 582.3L269.8 583.4L284.8 587.1Z"/>
<path d="M395.5 588.3L382.9 586.8L383.3 588.1L377.2 585.4L383.8 584.3L383.0 585.5L395.7 587.1Z"/>
<path d="M338.6 614.8L323.0 613.1L323.4 614.4L317.3 611.8L323.8 610.6L323.1 611.8L338.7 613.5Z"/>
<path d="M432.2 630.8L416.6 628.8L417.1 630.2L411.0 627.4L417.6 626.3L416.8 627.5L432.4 629.5Z"/>
<path d="M403.5 657.7L387.9 655.2L388.3 656.5L382.3 653.6L388.9 652.7L388.1 653.9L403.7 656.4Z"/>
<path d="M289.5 673.7L273.5 668.8L273.7 670.2L268.1 666.5L274.8 666.5L273.9 667.6L289.9 672.5Z"/>
<path d="M556.9 544.3L539.6 541.1L540.0 542.5L534.0 539.5L540.7 538.7L539.9 539.9L557.1 543.0Z"/>
<path d="M532.8 569.3L515.5 566.4L515.9 567.7L509.9 564.7L516.6 563.9L515.8 565.1L533.0 568.0Z"/>
<path d="M587.9 567.2L569.9 563.5L570.2 564.9L564.3 561.8L571.0 561.1L570.2 562.3L588.1 565.9Z"/>
<path d="M642.4 565.8L624.9 559.3L625.0 560.8L619.7 556.7L626.4 557.1L625.3 558.1L642.9 564.6Z"/>
<path d="M663.8 591.1L647.8 584.7L647.9 586.1L642.6 582.0L649.3 582.5L648.3 583.5L664.2 589.9Z"/>
<path d="M478.8 599.8L463.9 597.8L464.3 599.2L458.3 596.4L464.9 595.3L464.1 596.5L479.0 598.5Z"/>
<path d="M597.4 603.2L580.7 598.1L580.9 599.5L575.4 595.7L582.1 595.8L581.1 596.8L597.8 602.0Z"/>
<path d="M632.5 609.0L615.0 602.5L615.1 603.9L609.8 599.9L616.5 600.3L615.5 601.3L633.0 607.8Z"/>
<path d="M533.9 659.5L519.0 657.0L519.4 658.4L513.4 655.4L520.0 654.6L519.2 655.8L534.1 658.2Z"/>
<path d="M478.9 661.8L464.0 660.2L464.4 661.5L458.3 658.9L464.8 657.7L464.1 658.9L479.0 660.5Z"/>
<path d="M585.6 679.0L570.7 677.1L571.1 678.4L565.0 675.6L571.6 674.6L570.9 675.8L585.8 677.8Z"/>
</g>
</g>
<rect x="64.5" y="78.5" width="600.0" height="600.0" fill="none" stroke="#000" stroke-width="1.1"/>
<line x1="59.6" y1="318.3" x2="64.5" y2="318.3" stroke="#000" stroke-width="1.1"/>
<line x1="424.6" y1="678.5" x2="424.6" y2="683.4" stroke="#000" stroke-width="1.1"/>
<text x="10.6" y="326.2" font-size="21.6" textLength="42.2" lengthAdjust="spacingAndGlyphs">16°N</text>
<text x="398.3" y="703.2" font-size="21.6" textLength="50.8" lengthAdjust="spacingAndGlyphs">122°E</text>
<path d="M68.0 770.5H660.6L689.8 785.15L660.6 799.8H68.0L38 785.15Z" fill="url(#cb)"/>
<path d="M68.0 770.5L38 785.15L68.0 799.8Z" fill="#fff7ec"/>
<path d="M660.6 770.5L689.8 785.15L660.6 799.8Z" fill="#7f0000"/>
<path d="M68.0 770.5H660.6L689.8 785.15L660.6 799.8H68.0L38 785.15Z" fill="none" stroke="#000" stroke-width="1.1" stroke-linejoin="miter"/>
<line x1="68.00" y1="799.80" x2="68.00" y2="804.70" stroke="#000" stroke-width="1.1"/><text x="68.00" y="822.3" font-size="16.4" text-anchor="middle">0.0</text><line x1="216.15" y1="799.80" x2="216.15" y2="804.70" stroke="#000" stroke-width="1.1"/><text x="216.15" y="822.3" font-size="16.4" text-anchor="middle">1.25</text><line x1="364.30" y1="799.80" x2="364.30" y2="804.70" stroke="#000" stroke-width="1.1"/><text x="364.30" y="822.3" font-size="16.4" text-anchor="middle">2.5</text><line x1="512.45" y1="799.80" x2="512.45" y2="804.70" stroke="#000" stroke-width="1.1"/><text x="512.45" y="822.3" font-size="16.4" text-anchor="middle">3.75</text><line x1="660.60" y1="799.80" x2="660.60" y2="804.70" stroke="#000" stroke-width="1.1"/><text x="660.60" y="822.3" font-size="16.4" text-anchor="middle">5.0</text>
<text x="735.5" y="793" font-size="20.8" font-style="italic" font-weight="bold">PM25 (ug/m<tspan dy="-7.5" dx="0.8" font-size="14.6" font-style="normal" font-weight="normal" font-family="DejaVu Sans, sans-serif">3</tspan><tspan dy="7.5" dx="-0.6">)</tspan></text>
</svg>
</body></html>
